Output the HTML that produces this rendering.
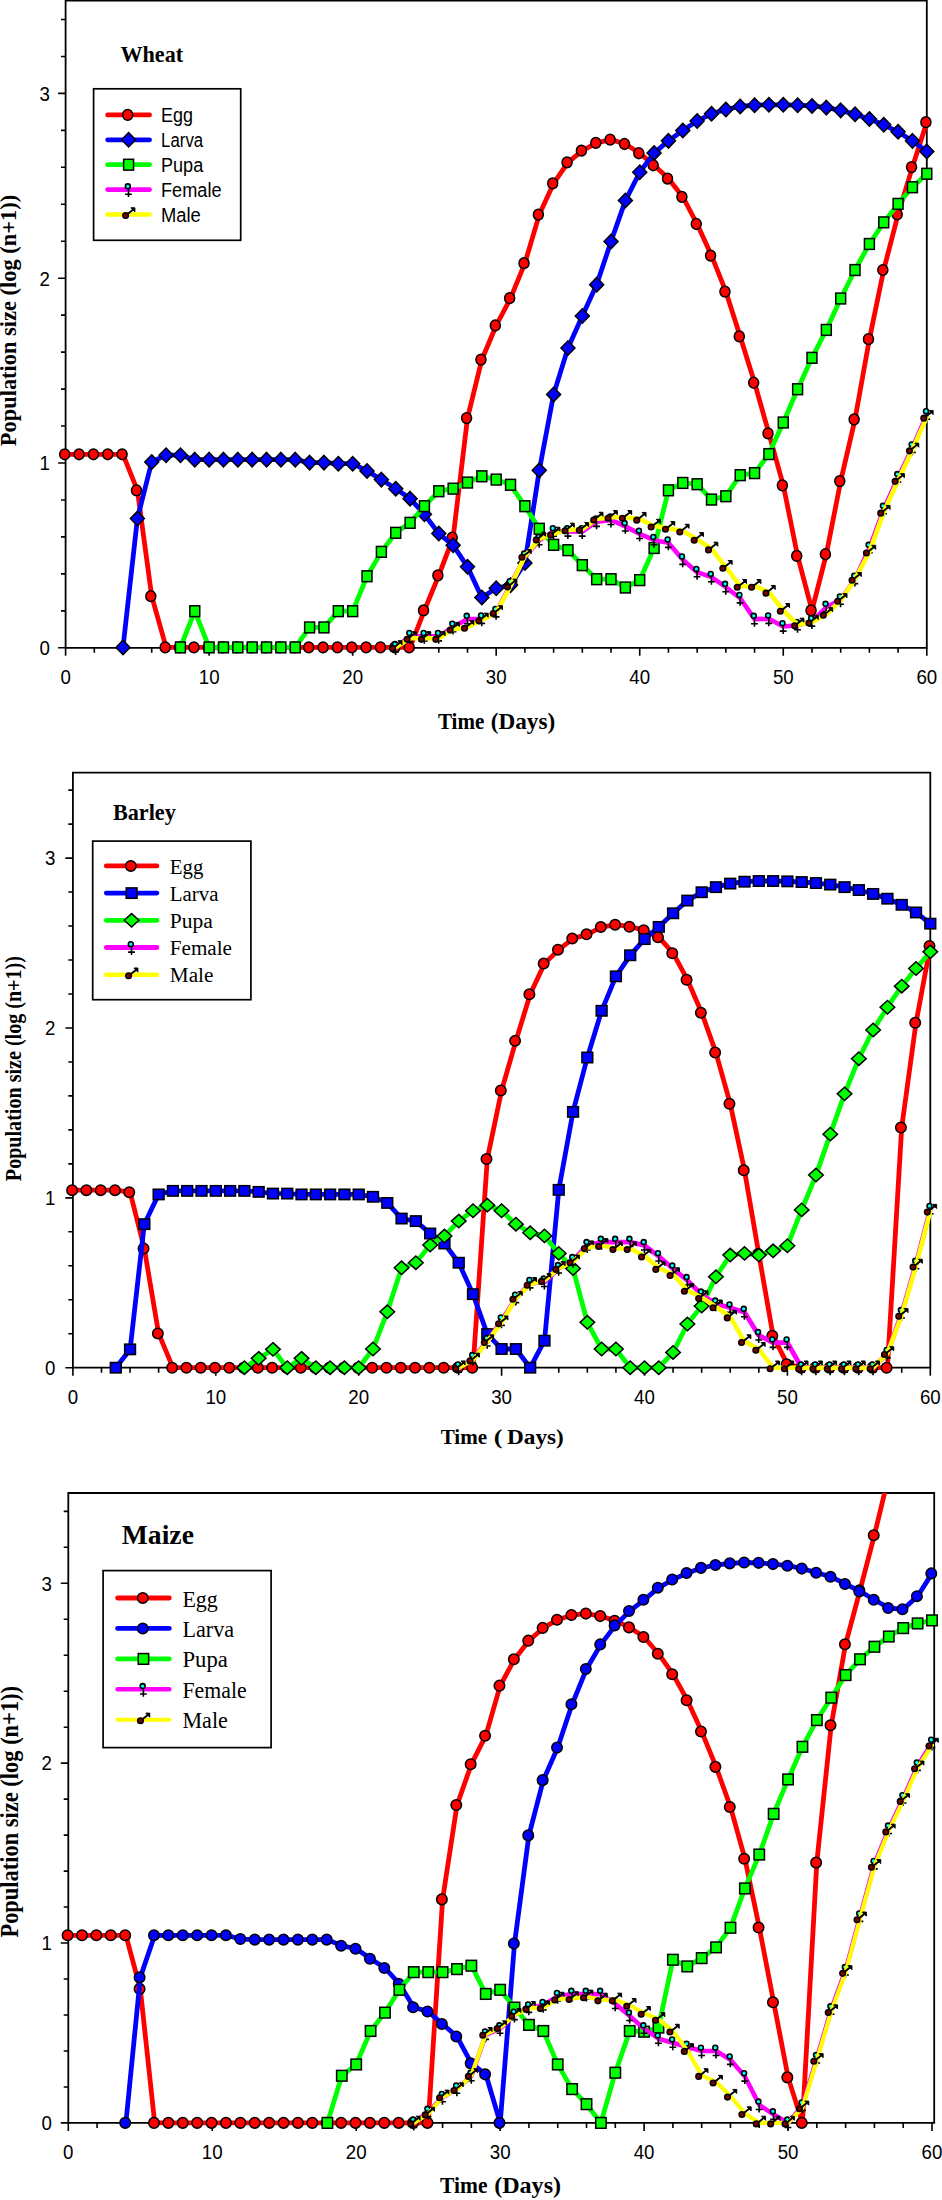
<!DOCTYPE html>
<html lang="en"><head><meta charset="utf-8"><title>Population size over time: Wheat, Barley, Maize</title>
<style>html,body{margin:0;padding:0;background:#fff}svg{display:block}</style></head>
<body>
<svg width="942" height="2200" viewBox="0 0 942 2200">
<defs>
<g id="fem"><path d="M-0.1 -0.8V7.5M-3.5 4.6H3.3" stroke="#000" stroke-width="1.6" fill="none"/><circle cx="-0.8" cy="-3.3" r="2.45" fill="#00ffff" stroke="#000" stroke-width="1.6"/></g>
<g id="mal"><path d="M-3 1L4.4 -4.8" stroke="#000" stroke-width="1.9" fill="none"/><path d="M6.3 -6.7L6.3 -2.6L2.3 -6.7Z" fill="#000" stroke="#000" stroke-width="1" stroke-linejoin="round"/><circle cx="-3" cy="1" r="2.75" fill="#800000" stroke="#000" stroke-width="1.6"/></g>
</defs>
<rect width="942" height="2200" fill="#fff"/>
<clipPath id="cp1"><rect x="55.599999999999994" y="0.6" width="881.1999999999999" height="659.1999999999999"/></clipPath>
<path d="M65.6 0.6H926.8V647.8H65.6Z" fill="none" stroke="#000" stroke-width="1.8"/>
<path d="M65.6 647.8v8.0M94.31 647.8v5.0M123.01 647.8v5.0M151.72 647.8v5.0M180.43 647.8v5.0M209.13 647.8v8.0M237.84 647.8v5.0M266.55 647.8v5.0M295.25 647.8v5.0M323.96 647.8v5.0M352.67 647.8v8.0M381.37 647.8v5.0M410.08 647.8v5.0M438.79 647.8v5.0M467.49 647.8v5.0M496.2 647.8v8.0M524.91 647.8v5.0M553.61 647.8v5.0M582.32 647.8v5.0M611.03 647.8v5.0M639.73 647.8v8.0M668.44 647.8v5.0M697.15 647.8v5.0M725.85 647.8v5.0M754.56 647.8v5.0M783.27 647.8v8.0M811.97 647.8v5.0M840.68 647.8v5.0M869.39 647.8v5.0M898.09 647.8v5.0M926.8 647.8v8.0M65.6 647.8h-7.5M65.6 610.84h-4.6M65.6 573.88h-4.6M65.6 536.92h-4.6M65.6 499.96h-4.6M65.6 463.0h-7.5M65.6 426.04h-4.6M65.6 389.08h-4.6M65.6 352.12h-4.6M65.6 315.16h-4.6M65.6 278.2h-7.5M65.6 241.24h-4.6M65.6 204.28h-4.6M65.6 167.32h-4.6M65.6 130.36h-4.6M65.6 93.4h-7.5M65.6 56.44h-4.6M65.6 19.48h-4.6" stroke="#000" stroke-width="1.6" fill="none"/>
<text transform="translate(65.6 683.7) scale(1 1.06)" font-family="Liberation Sans, Arial, sans-serif" font-size="18.7" text-anchor="middle" fill="#000" xml:space="preserve">0</text>
<text transform="translate(209.13 683.7) scale(1 1.06)" font-family="Liberation Sans, Arial, sans-serif" font-size="18.7" text-anchor="middle" fill="#000" xml:space="preserve">10</text>
<text transform="translate(352.67 683.7) scale(1 1.06)" font-family="Liberation Sans, Arial, sans-serif" font-size="18.7" text-anchor="middle" fill="#000" xml:space="preserve">20</text>
<text transform="translate(496.2 683.7) scale(1 1.06)" font-family="Liberation Sans, Arial, sans-serif" font-size="18.7" text-anchor="middle" fill="#000" xml:space="preserve">30</text>
<text transform="translate(639.73 683.7) scale(1 1.06)" font-family="Liberation Sans, Arial, sans-serif" font-size="18.7" text-anchor="middle" fill="#000" xml:space="preserve">40</text>
<text transform="translate(783.27 683.7) scale(1 1.06)" font-family="Liberation Sans, Arial, sans-serif" font-size="18.7" text-anchor="middle" fill="#000" xml:space="preserve">50</text>
<text transform="translate(926.8 683.7) scale(1 1.06)" font-family="Liberation Sans, Arial, sans-serif" font-size="18.7" text-anchor="middle" fill="#000" xml:space="preserve">60</text>
<text transform="translate(49.8 655.1) scale(1 1.06)" font-family="Liberation Sans, Arial, sans-serif" font-size="18.7" text-anchor="end" fill="#000" xml:space="preserve">0</text>
<text transform="translate(49.8 470.3) scale(1 1.06)" font-family="Liberation Sans, Arial, sans-serif" font-size="18.7" text-anchor="end" fill="#000" xml:space="preserve">1</text>
<text transform="translate(49.8 285.5) scale(1 1.06)" font-family="Liberation Sans, Arial, sans-serif" font-size="18.7" text-anchor="end" fill="#000" xml:space="preserve">2</text>
<text transform="translate(49.8 100.7) scale(1 1.06)" font-family="Liberation Sans, Arial, sans-serif" font-size="18.7" text-anchor="end" fill="#000" xml:space="preserve">3</text>
<g clip-path="url(#cp1)">
<polyline points="65.6,454.3 80.0,454.3 94.3,454.3 108.7,454.3 123.0,454.3 137.4,490.3 151.7,596.2 166.1,647.4 180.4,647.4 194.8,647.4 209.1,647.4 223.5,647.4 237.8,647.4 252.2,647.4 266.5,647.4 280.9,647.4 295.3,647.4 309.6,647.4 324.0,647.4 338.3,647.4 352.7,647.4 367.0,647.4 381.4,647.4 395.7,647.4 410.1,647.4 424.4,610.4 438.8,575.3 453.1,537.6 467.5,418.1 481.8,359.7 496.2,325.5 510.6,298.1 524.9,263.2 539.3,214.6 553.6,183.4 568.0,162.3 582.3,150.7 596.7,142.9 611.0,139.6 625.4,144.0 639.7,153.2 654.1,165.3 668.4,178.6 682.8,196.9 697.1,224.0 711.5,255.6 725.9,291.7 740.2,336.4 754.6,382.8 768.9,433.4 783.3,485.3 797.6,555.9 812.0,610.4 826.3,554.3 840.7,481.1 855.0,419.4 869.4,339.2 883.7,270.0 898.1,214.4 912.4,167.1 926.8,122.2" fill="none" stroke="#ff0000" stroke-width="4.8" stroke-linejoin="round" stroke-linecap="round"/>
<ellipse cx="64.7" cy="454.28" rx="5.0" ry="5.4" fill="#ff0000" stroke="#000" stroke-width="1.5"/>
<ellipse cx="79.05" cy="454.28" rx="5.0" ry="5.4" fill="#ff0000" stroke="#000" stroke-width="1.5"/>
<ellipse cx="93.41" cy="454.28" rx="5.0" ry="5.4" fill="#ff0000" stroke="#000" stroke-width="1.5"/>
<ellipse cx="107.76" cy="454.28" rx="5.0" ry="5.4" fill="#ff0000" stroke="#000" stroke-width="1.5"/>
<ellipse cx="122.11" cy="454.28" rx="5.0" ry="5.4" fill="#ff0000" stroke="#000" stroke-width="1.5"/>
<ellipse cx="136.47" cy="490.32" rx="5.0" ry="5.4" fill="#ff0000" stroke="#000" stroke-width="1.5"/>
<ellipse cx="150.82" cy="596.21" rx="5.0" ry="5.4" fill="#ff0000" stroke="#000" stroke-width="1.5"/>
<ellipse cx="165.17" cy="647.4" rx="5.0" ry="5.4" fill="#ff0000" stroke="#000" stroke-width="1.5"/>
<ellipse cx="179.53" cy="647.4" rx="5.0" ry="5.4" fill="#ff0000" stroke="#000" stroke-width="1.5"/>
<ellipse cx="193.88" cy="647.4" rx="5.0" ry="5.4" fill="#ff0000" stroke="#000" stroke-width="1.5"/>
<ellipse cx="208.23" cy="647.4" rx="5.0" ry="5.4" fill="#ff0000" stroke="#000" stroke-width="1.5"/>
<ellipse cx="222.59" cy="647.4" rx="5.0" ry="5.4" fill="#ff0000" stroke="#000" stroke-width="1.5"/>
<ellipse cx="236.94" cy="647.4" rx="5.0" ry="5.4" fill="#ff0000" stroke="#000" stroke-width="1.5"/>
<ellipse cx="251.29" cy="647.4" rx="5.0" ry="5.4" fill="#ff0000" stroke="#000" stroke-width="1.5"/>
<ellipse cx="265.65" cy="647.4" rx="5.0" ry="5.4" fill="#ff0000" stroke="#000" stroke-width="1.5"/>
<ellipse cx="280.0" cy="647.4" rx="5.0" ry="5.4" fill="#ff0000" stroke="#000" stroke-width="1.5"/>
<ellipse cx="294.35" cy="647.4" rx="5.0" ry="5.4" fill="#ff0000" stroke="#000" stroke-width="1.5"/>
<ellipse cx="308.71" cy="647.4" rx="5.0" ry="5.4" fill="#ff0000" stroke="#000" stroke-width="1.5"/>
<ellipse cx="323.06" cy="647.4" rx="5.0" ry="5.4" fill="#ff0000" stroke="#000" stroke-width="1.5"/>
<ellipse cx="337.41" cy="647.4" rx="5.0" ry="5.4" fill="#ff0000" stroke="#000" stroke-width="1.5"/>
<ellipse cx="351.77" cy="647.4" rx="5.0" ry="5.4" fill="#ff0000" stroke="#000" stroke-width="1.5"/>
<ellipse cx="366.12" cy="647.4" rx="5.0" ry="5.4" fill="#ff0000" stroke="#000" stroke-width="1.5"/>
<ellipse cx="380.47" cy="647.4" rx="5.0" ry="5.4" fill="#ff0000" stroke="#000" stroke-width="1.5"/>
<ellipse cx="394.83" cy="647.4" rx="5.0" ry="5.4" fill="#ff0000" stroke="#000" stroke-width="1.5"/>
<ellipse cx="409.18" cy="647.4" rx="5.0" ry="5.4" fill="#ff0000" stroke="#000" stroke-width="1.5"/>
<ellipse cx="423.53" cy="610.44" rx="5.0" ry="5.4" fill="#ff0000" stroke="#000" stroke-width="1.5"/>
<ellipse cx="437.89" cy="575.33" rx="5.0" ry="5.4" fill="#ff0000" stroke="#000" stroke-width="1.5"/>
<ellipse cx="452.24" cy="537.63" rx="5.0" ry="5.4" fill="#ff0000" stroke="#000" stroke-width="1.5"/>
<ellipse cx="466.59" cy="418.06" rx="5.0" ry="5.4" fill="#ff0000" stroke="#000" stroke-width="1.5"/>
<ellipse cx="480.95" cy="359.67" rx="5.0" ry="5.4" fill="#ff0000" stroke="#000" stroke-width="1.5"/>
<ellipse cx="495.3" cy="325.48" rx="5.0" ry="5.4" fill="#ff0000" stroke="#000" stroke-width="1.5"/>
<ellipse cx="509.65" cy="298.13" rx="5.0" ry="5.4" fill="#ff0000" stroke="#000" stroke-width="1.5"/>
<ellipse cx="524.01" cy="263.2" rx="5.0" ry="5.4" fill="#ff0000" stroke="#000" stroke-width="1.5"/>
<ellipse cx="538.36" cy="214.6" rx="5.0" ry="5.4" fill="#ff0000" stroke="#000" stroke-width="1.5"/>
<ellipse cx="552.71" cy="183.37" rx="5.0" ry="5.4" fill="#ff0000" stroke="#000" stroke-width="1.5"/>
<ellipse cx="567.07" cy="162.3" rx="5.0" ry="5.4" fill="#ff0000" stroke="#000" stroke-width="1.5"/>
<ellipse cx="581.42" cy="150.66" rx="5.0" ry="5.4" fill="#ff0000" stroke="#000" stroke-width="1.5"/>
<ellipse cx="595.77" cy="142.9" rx="5.0" ry="5.4" fill="#ff0000" stroke="#000" stroke-width="1.5"/>
<ellipse cx="610.13" cy="139.57" rx="5.0" ry="5.4" fill="#ff0000" stroke="#000" stroke-width="1.5"/>
<ellipse cx="624.48" cy="144.0" rx="5.0" ry="5.4" fill="#ff0000" stroke="#000" stroke-width="1.5"/>
<ellipse cx="638.83" cy="153.24" rx="5.0" ry="5.4" fill="#ff0000" stroke="#000" stroke-width="1.5"/>
<ellipse cx="653.19" cy="165.26" rx="5.0" ry="5.4" fill="#ff0000" stroke="#000" stroke-width="1.5"/>
<ellipse cx="667.54" cy="178.56" rx="5.0" ry="5.4" fill="#ff0000" stroke="#000" stroke-width="1.5"/>
<ellipse cx="681.89" cy="196.86" rx="5.0" ry="5.4" fill="#ff0000" stroke="#000" stroke-width="1.5"/>
<ellipse cx="696.25" cy="224.02" rx="5.0" ry="5.4" fill="#ff0000" stroke="#000" stroke-width="1.5"/>
<ellipse cx="710.6" cy="255.62" rx="5.0" ry="5.4" fill="#ff0000" stroke="#000" stroke-width="1.5"/>
<ellipse cx="724.95" cy="291.66" rx="5.0" ry="5.4" fill="#ff0000" stroke="#000" stroke-width="1.5"/>
<ellipse cx="739.31" cy="336.38" rx="5.0" ry="5.4" fill="#ff0000" stroke="#000" stroke-width="1.5"/>
<ellipse cx="753.66" cy="382.77" rx="5.0" ry="5.4" fill="#ff0000" stroke="#000" stroke-width="1.5"/>
<ellipse cx="768.01" cy="433.4" rx="5.0" ry="5.4" fill="#ff0000" stroke="#000" stroke-width="1.5"/>
<ellipse cx="782.37" cy="485.33" rx="5.0" ry="5.4" fill="#ff0000" stroke="#000" stroke-width="1.5"/>
<ellipse cx="796.72" cy="555.92" rx="5.0" ry="5.4" fill="#ff0000" stroke="#000" stroke-width="1.5"/>
<ellipse cx="811.07" cy="610.44" rx="5.0" ry="5.4" fill="#ff0000" stroke="#000" stroke-width="1.5"/>
<ellipse cx="825.43" cy="554.26" rx="5.0" ry="5.4" fill="#ff0000" stroke="#000" stroke-width="1.5"/>
<ellipse cx="839.78" cy="481.08" rx="5.0" ry="5.4" fill="#ff0000" stroke="#000" stroke-width="1.5"/>
<ellipse cx="854.13" cy="419.36" rx="5.0" ry="5.4" fill="#ff0000" stroke="#000" stroke-width="1.5"/>
<ellipse cx="868.49" cy="339.15" rx="5.0" ry="5.4" fill="#ff0000" stroke="#000" stroke-width="1.5"/>
<ellipse cx="882.84" cy="270.04" rx="5.0" ry="5.4" fill="#ff0000" stroke="#000" stroke-width="1.5"/>
<ellipse cx="897.19" cy="214.41" rx="5.0" ry="5.4" fill="#ff0000" stroke="#000" stroke-width="1.5"/>
<ellipse cx="911.55" cy="167.1" rx="5.0" ry="5.4" fill="#ff0000" stroke="#000" stroke-width="1.5"/>
<ellipse cx="925.9" cy="122.2" rx="5.0" ry="5.4" fill="#ff0000" stroke="#000" stroke-width="1.5"/>
<polyline points="123.0,647.4 137.4,518.6 151.7,462.0 166.1,455.2 180.4,455.2 194.8,459.6 209.1,459.6 223.5,459.6 237.8,459.6 252.2,459.6 266.5,459.6 280.9,459.6 295.3,459.6 309.6,462.6 324.0,462.6 338.3,463.7 352.7,463.7 367.0,470.9 381.4,479.6 395.7,488.7 410.1,498.6 424.4,514.3 438.8,533.6 453.1,545.2 467.5,566.8 481.8,597.5 496.2,588.3 510.6,585.1 524.9,562.9 539.3,470.4 553.6,394.4 568.0,348.0 582.3,316.1 596.7,284.6 611.0,241.6 625.4,200.6 639.7,172.3 654.1,153.1 668.4,140.9 682.8,130.5 697.1,121.1 711.5,113.7 725.9,109.4 740.2,106.5 754.6,105.2 768.9,104.8 783.3,104.8 797.6,105.2 812.0,105.9 826.3,107.6 840.7,110.4 855.0,114.3 869.4,119.1 883.7,124.8 898.1,131.8 912.4,140.9 926.8,151.4" fill="none" stroke="#0000ff" stroke-width="4.8" stroke-linejoin="round" stroke-linecap="round"/>
<path d="M123.01 640.2L130.01 647.4L123.01 654.6L116.01 647.4Z" fill="#0000ff" stroke="#000" stroke-width="1.5" stroke-linejoin="miter"/>
<path d="M137.37 511.39L144.37 518.59L137.37 525.79L130.37 518.59Z" fill="#0000ff" stroke="#000" stroke-width="1.5" stroke-linejoin="miter"/>
<path d="M151.72 454.85L158.72 462.05L151.72 469.25L144.72 462.05Z" fill="#0000ff" stroke="#000" stroke-width="1.5" stroke-linejoin="miter"/>
<path d="M166.07 448.01L173.07 455.21L166.07 462.41L159.07 455.21Z" fill="#0000ff" stroke="#000" stroke-width="1.5" stroke-linejoin="miter"/>
<path d="M180.43 448.01L187.43 455.21L180.43 462.41L173.43 455.21Z" fill="#0000ff" stroke="#000" stroke-width="1.5" stroke-linejoin="miter"/>
<path d="M194.78 452.44L201.78 459.64L194.78 466.84L187.78 459.64Z" fill="#0000ff" stroke="#000" stroke-width="1.5" stroke-linejoin="miter"/>
<path d="M209.13 452.44L216.13 459.64L209.13 466.84L202.13 459.64Z" fill="#0000ff" stroke="#000" stroke-width="1.5" stroke-linejoin="miter"/>
<path d="M223.49 452.44L230.49 459.64L223.49 466.84L216.49 459.64Z" fill="#0000ff" stroke="#000" stroke-width="1.5" stroke-linejoin="miter"/>
<path d="M237.84 452.44L244.84 459.64L237.84 466.84L230.84 459.64Z" fill="#0000ff" stroke="#000" stroke-width="1.5" stroke-linejoin="miter"/>
<path d="M252.19 452.44L259.19 459.64L252.19 466.84L245.19 459.64Z" fill="#0000ff" stroke="#000" stroke-width="1.5" stroke-linejoin="miter"/>
<path d="M266.55 452.44L273.55 459.64L266.55 466.84L259.55 459.64Z" fill="#0000ff" stroke="#000" stroke-width="1.5" stroke-linejoin="miter"/>
<path d="M280.9 452.44L287.9 459.64L280.9 466.84L273.9 459.64Z" fill="#0000ff" stroke="#000" stroke-width="1.5" stroke-linejoin="miter"/>
<path d="M295.25 452.44L302.25 459.64L295.25 466.84L288.25 459.64Z" fill="#0000ff" stroke="#000" stroke-width="1.5" stroke-linejoin="miter"/>
<path d="M309.61 455.4L316.61 462.6L309.61 469.8L302.61 462.6Z" fill="#0000ff" stroke="#000" stroke-width="1.5" stroke-linejoin="miter"/>
<path d="M323.96 455.4L330.96 462.6L323.96 469.8L316.96 462.6Z" fill="#0000ff" stroke="#000" stroke-width="1.5" stroke-linejoin="miter"/>
<path d="M338.31 456.51L345.31 463.71L338.31 470.91L331.31 463.71Z" fill="#0000ff" stroke="#000" stroke-width="1.5" stroke-linejoin="miter"/>
<path d="M352.67 456.51L359.67 463.71L352.67 470.91L345.67 463.71Z" fill="#0000ff" stroke="#000" stroke-width="1.5" stroke-linejoin="miter"/>
<path d="M367.02 463.72L374.02 470.92L367.02 478.12L360.02 470.92Z" fill="#0000ff" stroke="#000" stroke-width="1.5" stroke-linejoin="miter"/>
<path d="M381.37 472.4L388.37 479.6L381.37 486.8L374.37 479.6Z" fill="#0000ff" stroke="#000" stroke-width="1.5" stroke-linejoin="miter"/>
<path d="M395.73 481.46L402.73 488.66L395.73 495.86L388.73 488.66Z" fill="#0000ff" stroke="#000" stroke-width="1.5" stroke-linejoin="miter"/>
<path d="M410.08 491.44L417.08 498.64L410.08 505.84L403.08 498.64Z" fill="#0000ff" stroke="#000" stroke-width="1.5" stroke-linejoin="miter"/>
<path d="M424.43 507.14L431.43 514.34L424.43 521.54L417.43 514.34Z" fill="#0000ff" stroke="#000" stroke-width="1.5" stroke-linejoin="miter"/>
<path d="M438.79 526.36L445.79 533.56L438.79 540.76L431.79 533.56Z" fill="#0000ff" stroke="#000" stroke-width="1.5" stroke-linejoin="miter"/>
<path d="M453.14 538.01L460.14 545.21L453.14 552.41L446.14 545.21Z" fill="#0000ff" stroke="#000" stroke-width="1.5" stroke-linejoin="miter"/>
<path d="M467.49 559.63L474.49 566.83L467.49 574.03L460.49 566.83Z" fill="#0000ff" stroke="#000" stroke-width="1.5" stroke-linejoin="miter"/>
<path d="M481.85 590.3L488.85 597.5L481.85 604.7L474.85 597.5Z" fill="#0000ff" stroke="#000" stroke-width="1.5" stroke-linejoin="miter"/>
<path d="M496.2 581.06L503.2 588.26L496.2 595.46L489.2 588.26Z" fill="#0000ff" stroke="#000" stroke-width="1.5" stroke-linejoin="miter"/>
<path d="M510.55 577.92L517.55 585.12L510.55 592.32L503.55 585.12Z" fill="#0000ff" stroke="#000" stroke-width="1.5" stroke-linejoin="miter"/>
<path d="M524.91 555.75L531.91 562.95L524.91 570.15L517.91 562.95Z" fill="#0000ff" stroke="#000" stroke-width="1.5" stroke-linejoin="miter"/>
<path d="M539.26 463.16L546.26 470.36L539.26 477.56L532.26 470.36Z" fill="#0000ff" stroke="#000" stroke-width="1.5" stroke-linejoin="miter"/>
<path d="M553.61 387.21L560.61 394.41L553.61 401.61L546.61 394.41Z" fill="#0000ff" stroke="#000" stroke-width="1.5" stroke-linejoin="miter"/>
<path d="M567.97 340.82L574.97 348.02L567.97 355.22L560.97 348.02Z" fill="#0000ff" stroke="#000" stroke-width="1.5" stroke-linejoin="miter"/>
<path d="M582.32 308.85L589.32 316.05L582.32 323.25L575.32 316.05Z" fill="#0000ff" stroke="#000" stroke-width="1.5" stroke-linejoin="miter"/>
<path d="M596.67 277.44L603.67 284.64L596.67 291.84L589.67 284.64Z" fill="#0000ff" stroke="#000" stroke-width="1.5" stroke-linejoin="miter"/>
<path d="M611.03 234.38L618.03 241.58L611.03 248.78L604.03 241.58Z" fill="#0000ff" stroke="#000" stroke-width="1.5" stroke-linejoin="miter"/>
<path d="M625.38 193.35L632.38 200.55L625.38 207.75L618.38 200.55Z" fill="#0000ff" stroke="#000" stroke-width="1.5" stroke-linejoin="miter"/>
<path d="M639.73 165.08L646.73 172.28L639.73 179.48L632.73 172.28Z" fill="#0000ff" stroke="#000" stroke-width="1.5" stroke-linejoin="miter"/>
<path d="M654.09 145.86L661.09 153.06L654.09 160.26L647.09 153.06Z" fill="#0000ff" stroke="#000" stroke-width="1.5" stroke-linejoin="miter"/>
<path d="M668.44 133.66L675.44 140.86L668.44 148.06L661.44 140.86Z" fill="#0000ff" stroke="#000" stroke-width="1.5" stroke-linejoin="miter"/>
<path d="M682.79 123.31L689.79 130.51L682.79 137.71L675.79 130.51Z" fill="#0000ff" stroke="#000" stroke-width="1.5" stroke-linejoin="miter"/>
<path d="M697.15 113.89L704.15 121.09L697.15 128.29L690.15 121.09Z" fill="#0000ff" stroke="#000" stroke-width="1.5" stroke-linejoin="miter"/>
<path d="M711.5 106.5L718.5 113.7L711.5 120.9L704.5 113.7Z" fill="#0000ff" stroke="#000" stroke-width="1.5" stroke-linejoin="miter"/>
<path d="M725.85 102.25L732.85 109.45L725.85 116.65L718.85 109.45Z" fill="#0000ff" stroke="#000" stroke-width="1.5" stroke-linejoin="miter"/>
<path d="M740.21 99.29L747.21 106.49L740.21 113.69L733.21 106.49Z" fill="#0000ff" stroke="#000" stroke-width="1.5" stroke-linejoin="miter"/>
<path d="M754.56 98.0L761.56 105.2L754.56 112.4L747.56 105.2Z" fill="#0000ff" stroke="#000" stroke-width="1.5" stroke-linejoin="miter"/>
<path d="M768.91 97.63L775.91 104.83L768.91 112.03L761.91 104.83Z" fill="#0000ff" stroke="#000" stroke-width="1.5" stroke-linejoin="miter"/>
<path d="M783.27 97.63L790.27 104.83L783.27 112.03L776.27 104.83Z" fill="#0000ff" stroke="#000" stroke-width="1.5" stroke-linejoin="miter"/>
<path d="M797.62 98.0L804.62 105.2L797.62 112.4L790.62 105.2Z" fill="#0000ff" stroke="#000" stroke-width="1.5" stroke-linejoin="miter"/>
<path d="M811.97 98.74L818.97 105.94L811.97 113.14L804.97 105.94Z" fill="#0000ff" stroke="#000" stroke-width="1.5" stroke-linejoin="miter"/>
<path d="M826.33 100.4L833.33 107.6L826.33 114.8L819.33 107.6Z" fill="#0000ff" stroke="#000" stroke-width="1.5" stroke-linejoin="miter"/>
<path d="M840.68 103.17L847.68 110.37L840.68 117.57L833.68 110.37Z" fill="#0000ff" stroke="#000" stroke-width="1.5" stroke-linejoin="miter"/>
<path d="M855.03 107.05L862.03 114.25L855.03 121.45L848.03 114.25Z" fill="#0000ff" stroke="#000" stroke-width="1.5" stroke-linejoin="miter"/>
<path d="M869.39 111.86L876.39 119.06L869.39 126.26L862.39 119.06Z" fill="#0000ff" stroke="#000" stroke-width="1.5" stroke-linejoin="miter"/>
<path d="M883.74 117.59L890.74 124.79L883.74 131.99L876.74 124.79Z" fill="#0000ff" stroke="#000" stroke-width="1.5" stroke-linejoin="miter"/>
<path d="M898.09 124.61L905.09 131.81L898.09 139.01L891.09 131.81Z" fill="#0000ff" stroke="#000" stroke-width="1.5" stroke-linejoin="miter"/>
<path d="M912.45 133.66L919.45 140.86L912.45 148.06L905.45 140.86Z" fill="#0000ff" stroke="#000" stroke-width="1.5" stroke-linejoin="miter"/>
<path d="M926.8 144.2L933.8 151.4L926.8 158.6L919.8 151.4Z" fill="#0000ff" stroke="#000" stroke-width="1.5" stroke-linejoin="miter"/>
<polyline points="180.4,647.4 194.8,611.2 209.1,647.4 223.5,647.4 237.8,647.4 252.2,647.4 266.5,647.4 280.9,647.4 295.3,647.4 309.6,627.4 324.0,627.4 338.3,611.2 352.7,611.2 367.0,576.3 381.4,551.9 395.7,532.8 410.1,522.8 424.4,506.2 438.8,491.2 453.1,488.7 467.5,482.6 481.8,476.3 496.2,479.6 510.6,484.8 524.9,506.2 539.3,528.8 553.6,544.8 568.0,550.2 582.3,565.2 596.7,579.2 611.0,579.2 625.4,587.5 639.7,580.1 654.1,548.0 668.4,490.3 682.8,482.9 697.1,484.2 711.5,499.6 725.9,496.2 740.2,475.2 754.6,473.1 768.9,454.1 783.3,422.5 797.6,389.2 812.0,357.8 826.3,329.9 840.7,298.5 855.0,270.0 869.4,244.0 883.7,222.4 898.1,203.9 912.4,187.2 926.8,173.8" fill="none" stroke="#00ff00" stroke-width="4.8" stroke-linejoin="round" stroke-linecap="round"/>
<rect x="175.48" y="642.0" width="9.9" height="10.8" fill="#00ff00" stroke="#000" stroke-width="1.5"/>
<rect x="189.83" y="605.78" width="9.9" height="10.8" fill="#00ff00" stroke="#000" stroke-width="1.5"/>
<rect x="204.18" y="642.0" width="9.9" height="10.8" fill="#00ff00" stroke="#000" stroke-width="1.5"/>
<rect x="218.54" y="642.0" width="9.9" height="10.8" fill="#00ff00" stroke="#000" stroke-width="1.5"/>
<rect x="232.89" y="642.0" width="9.9" height="10.8" fill="#00ff00" stroke="#000" stroke-width="1.5"/>
<rect x="247.24" y="642.0" width="9.9" height="10.8" fill="#00ff00" stroke="#000" stroke-width="1.5"/>
<rect x="261.6" y="642.0" width="9.9" height="10.8" fill="#00ff00" stroke="#000" stroke-width="1.5"/>
<rect x="275.95" y="642.0" width="9.9" height="10.8" fill="#00ff00" stroke="#000" stroke-width="1.5"/>
<rect x="290.3" y="642.0" width="9.9" height="10.8" fill="#00ff00" stroke="#000" stroke-width="1.5"/>
<rect x="304.66" y="622.04" width="9.9" height="10.8" fill="#00ff00" stroke="#000" stroke-width="1.5"/>
<rect x="319.01" y="622.04" width="9.9" height="10.8" fill="#00ff00" stroke="#000" stroke-width="1.5"/>
<rect x="333.36" y="605.78" width="9.9" height="10.8" fill="#00ff00" stroke="#000" stroke-width="1.5"/>
<rect x="347.72" y="605.78" width="9.9" height="10.8" fill="#00ff00" stroke="#000" stroke-width="1.5"/>
<rect x="362.07" y="570.85" width="9.9" height="10.8" fill="#00ff00" stroke="#000" stroke-width="1.5"/>
<rect x="376.42" y="546.46" width="9.9" height="10.8" fill="#00ff00" stroke="#000" stroke-width="1.5"/>
<rect x="390.78" y="527.42" width="9.9" height="10.8" fill="#00ff00" stroke="#000" stroke-width="1.5"/>
<rect x="405.13" y="517.44" width="9.9" height="10.8" fill="#00ff00" stroke="#000" stroke-width="1.5"/>
<rect x="419.48" y="500.81" width="9.9" height="10.8" fill="#00ff00" stroke="#000" stroke-width="1.5"/>
<rect x="433.84" y="485.84" width="9.9" height="10.8" fill="#00ff00" stroke="#000" stroke-width="1.5"/>
<rect x="448.19" y="483.26" width="9.9" height="10.8" fill="#00ff00" stroke="#000" stroke-width="1.5"/>
<rect x="462.54" y="477.16" width="9.9" height="10.8" fill="#00ff00" stroke="#000" stroke-width="1.5"/>
<rect x="476.9" y="470.88" width="9.9" height="10.8" fill="#00ff00" stroke="#000" stroke-width="1.5"/>
<rect x="491.25" y="474.2" width="9.9" height="10.8" fill="#00ff00" stroke="#000" stroke-width="1.5"/>
<rect x="505.6" y="479.38" width="9.9" height="10.8" fill="#00ff00" stroke="#000" stroke-width="1.5"/>
<rect x="519.96" y="500.81" width="9.9" height="10.8" fill="#00ff00" stroke="#000" stroke-width="1.5"/>
<rect x="534.31" y="523.36" width="9.9" height="10.8" fill="#00ff00" stroke="#000" stroke-width="1.5"/>
<rect x="548.66" y="539.44" width="9.9" height="10.8" fill="#00ff00" stroke="#000" stroke-width="1.5"/>
<rect x="563.02" y="544.8" width="9.9" height="10.8" fill="#00ff00" stroke="#000" stroke-width="1.5"/>
<rect x="577.37" y="559.76" width="9.9" height="10.8" fill="#00ff00" stroke="#000" stroke-width="1.5"/>
<rect x="591.72" y="573.81" width="9.9" height="10.8" fill="#00ff00" stroke="#000" stroke-width="1.5"/>
<rect x="606.08" y="573.81" width="9.9" height="10.8" fill="#00ff00" stroke="#000" stroke-width="1.5"/>
<rect x="620.43" y="582.12" width="9.9" height="10.8" fill="#00ff00" stroke="#000" stroke-width="1.5"/>
<rect x="634.78" y="574.73" width="9.9" height="10.8" fill="#00ff00" stroke="#000" stroke-width="1.5"/>
<rect x="649.14" y="542.58" width="9.9" height="10.8" fill="#00ff00" stroke="#000" stroke-width="1.5"/>
<rect x="663.49" y="484.92" width="9.9" height="10.8" fill="#00ff00" stroke="#000" stroke-width="1.5"/>
<rect x="677.84" y="477.53" width="9.9" height="10.8" fill="#00ff00" stroke="#000" stroke-width="1.5"/>
<rect x="692.2" y="478.82" width="9.9" height="10.8" fill="#00ff00" stroke="#000" stroke-width="1.5"/>
<rect x="706.55" y="494.16" width="9.9" height="10.8" fill="#00ff00" stroke="#000" stroke-width="1.5"/>
<rect x="720.9" y="490.83" width="9.9" height="10.8" fill="#00ff00" stroke="#000" stroke-width="1.5"/>
<rect x="735.26" y="469.77" width="9.9" height="10.8" fill="#00ff00" stroke="#000" stroke-width="1.5"/>
<rect x="749.61" y="467.73" width="9.9" height="10.8" fill="#00ff00" stroke="#000" stroke-width="1.5"/>
<rect x="763.96" y="448.7" width="9.9" height="10.8" fill="#00ff00" stroke="#000" stroke-width="1.5"/>
<rect x="778.32" y="417.1" width="9.9" height="10.8" fill="#00ff00" stroke="#000" stroke-width="1.5"/>
<rect x="792.67" y="383.83" width="9.9" height="10.8" fill="#00ff00" stroke="#000" stroke-width="1.5"/>
<rect x="807.02" y="352.42" width="9.9" height="10.8" fill="#00ff00" stroke="#000" stroke-width="1.5"/>
<rect x="821.38" y="324.51" width="9.9" height="10.8" fill="#00ff00" stroke="#000" stroke-width="1.5"/>
<rect x="835.73" y="293.1" width="9.9" height="10.8" fill="#00ff00" stroke="#000" stroke-width="1.5"/>
<rect x="850.08" y="264.64" width="9.9" height="10.8" fill="#00ff00" stroke="#000" stroke-width="1.5"/>
<rect x="864.44" y="238.58" width="9.9" height="10.8" fill="#00ff00" stroke="#000" stroke-width="1.5"/>
<rect x="878.79" y="216.96" width="9.9" height="10.8" fill="#00ff00" stroke="#000" stroke-width="1.5"/>
<rect x="893.14" y="198.48" width="9.9" height="10.8" fill="#00ff00" stroke="#000" stroke-width="1.5"/>
<rect x="907.5" y="181.85" width="9.9" height="10.8" fill="#00ff00" stroke="#000" stroke-width="1.5"/>
<rect x="921.85" y="168.36" width="9.9" height="10.8" fill="#00ff00" stroke="#000" stroke-width="1.5"/>
<polyline points="395.7,647.4 410.1,636.3 424.4,636.3 438.8,636.3 453.1,627.1 467.5,619.1 481.8,618.8 496.2,612.3 510.6,584.6 524.9,556.8 539.3,540.2 553.6,531.5 568.0,531.5 582.3,531.5 596.7,521.7 611.0,519.9 625.4,526.4 639.7,533.9 654.1,540.2 668.4,542.8 682.8,559.8 697.1,572.2 711.5,577.2 725.9,587.2 740.2,598.2 754.6,619.1 768.9,618.8 783.3,626.5 797.6,625.2 812.0,621.5 826.3,607.1 840.7,599.7 855.0,579.0 869.4,548.2 883.7,509.2 898.1,477.4 912.4,447.8 926.8,414.6" fill="none" stroke="#ff00ff" stroke-width="4.6" stroke-linejoin="round" stroke-linecap="round"/>
<use href="#fem" x="395.73" y="647.4"/>
<use href="#fem" x="410.08" y="636.31"/>
<use href="#fem" x="424.43" y="636.31"/>
<use href="#fem" x="438.79" y="636.31"/>
<use href="#fem" x="453.14" y="627.07"/>
<use href="#fem" x="467.49" y="619.13"/>
<use href="#fem" x="481.85" y="618.76"/>
<use href="#fem" x="496.2" y="612.29"/>
<use href="#fem" x="510.55" y="584.57"/>
<use href="#fem" x="524.91" y="556.85"/>
<use href="#fem" x="539.26" y="540.22"/>
<use href="#fem" x="553.61" y="531.53"/>
<use href="#fem" x="567.97" y="531.53"/>
<use href="#fem" x="582.32" y="531.53"/>
<use href="#fem" x="596.67" y="521.74"/>
<use href="#fem" x="611.03" y="519.89"/>
<use href="#fem" x="625.38" y="526.36"/>
<use href="#fem" x="639.73" y="533.93"/>
<use href="#fem" x="654.09" y="540.22"/>
<use href="#fem" x="668.44" y="542.8"/>
<use href="#fem" x="682.79" y="559.8"/>
<use href="#fem" x="697.15" y="572.19"/>
<use href="#fem" x="711.5" y="577.18"/>
<use href="#fem" x="725.85" y="587.16"/>
<use href="#fem" x="740.21" y="598.24"/>
<use href="#fem" x="754.56" y="619.13"/>
<use href="#fem" x="768.91" y="618.76"/>
<use href="#fem" x="783.27" y="626.52"/>
<use href="#fem" x="797.62" y="625.22"/>
<use href="#fem" x="811.97" y="621.53"/>
<use href="#fem" x="826.33" y="607.11"/>
<use href="#fem" x="840.68" y="599.72"/>
<use href="#fem" x="855.03" y="579.02"/>
<use href="#fem" x="869.39" y="548.16"/>
<use href="#fem" x="883.74" y="509.17"/>
<use href="#fem" x="898.09" y="477.38"/>
<use href="#fem" x="912.45" y="447.82"/>
<use href="#fem" x="926.8" y="414.55"/>
<polyline points="395.7,647.4 410.1,638.3 424.4,638.3 438.8,638.3 453.1,629.1 467.5,627.3 481.8,619.9 496.2,612.5 510.6,585.9 524.9,556.3 539.3,538.9 553.6,533.9 568.0,529.9 582.3,529.3 596.7,519.0 611.0,517.3 625.4,517.3 639.7,519.1 654.1,526.0 668.4,528.2 682.8,531.0 697.1,539.3 711.5,548.9 725.9,567.2 740.2,586.2 754.6,586.2 768.9,592.1 783.3,610.3 797.6,624.9 812.0,622.1 826.3,614.3 840.7,600.3 855.0,579.2 869.4,552.0 883.7,512.1 898.1,480.3 912.4,449.8 926.8,417.1" fill="none" stroke="#ffff00" stroke-width="4.6" stroke-linejoin="round" stroke-linecap="round"/>
<use href="#mal" x="395.73" y="647.4"/>
<use href="#mal" x="410.08" y="638.34"/>
<use href="#mal" x="424.43" y="638.34"/>
<use href="#mal" x="438.79" y="638.34"/>
<use href="#mal" x="453.14" y="629.1"/>
<use href="#mal" x="467.49" y="627.26"/>
<use href="#mal" x="481.85" y="619.86"/>
<use href="#mal" x="496.2" y="612.47"/>
<use href="#mal" x="510.55" y="585.86"/>
<use href="#mal" x="524.91" y="556.29"/>
<use href="#mal" x="539.26" y="538.92"/>
<use href="#mal" x="553.61" y="533.93"/>
<use href="#mal" x="567.97" y="529.87"/>
<use href="#mal" x="582.32" y="529.31"/>
<use href="#mal" x="596.67" y="518.96"/>
<use href="#mal" x="611.03" y="517.3"/>
<use href="#mal" x="625.38" y="517.3"/>
<use href="#mal" x="639.73" y="519.15"/>
<use href="#mal" x="654.09" y="525.99"/>
<use href="#mal" x="668.44" y="528.2"/>
<use href="#mal" x="682.79" y="530.98"/>
<use href="#mal" x="697.15" y="539.29"/>
<use href="#mal" x="711.5" y="548.9"/>
<use href="#mal" x="725.85" y="567.2"/>
<use href="#mal" x="740.21" y="586.23"/>
<use href="#mal" x="754.56" y="586.23"/>
<use href="#mal" x="768.91" y="592.14"/>
<use href="#mal" x="783.27" y="610.26"/>
<use href="#mal" x="797.62" y="624.85"/>
<use href="#mal" x="811.97" y="622.08"/>
<use href="#mal" x="826.33" y="614.32"/>
<use href="#mal" x="840.68" y="600.28"/>
<use href="#mal" x="855.03" y="579.21"/>
<use href="#mal" x="869.39" y="552.04"/>
<use href="#mal" x="883.74" y="512.13"/>
<use href="#mal" x="898.09" y="480.34"/>
<use href="#mal" x="912.45" y="449.85"/>
<use href="#mal" x="926.8" y="417.14"/>
</g>
<rect x="93.6" y="88.8" width="147.1" height="151.5" fill="#fff" stroke="#000" stroke-width="1.7"/>
<path d="M107.6 114.9H149.6" stroke="#ff0000" stroke-width="4.7" stroke-linecap="round"/>
<ellipse cx="127.7" cy="114.9" rx="5.0" ry="5.4" fill="#ff0000" stroke="#000" stroke-width="1.5"/>
<text transform="translate(161.03 122.1) scale(1 1.084)" font-family="Liberation Sans, Arial, sans-serif" font-size="18.1" textLength="31.93" lengthAdjust="spacingAndGlyphs" fill="#000" xml:space="preserve">Egg</text>
<path d="M107.6 139.8H149.6" stroke="#0000ff" stroke-width="4.7" stroke-linecap="round"/>
<path d="M128.6 132.6L135.6 139.8L128.6 147.0L121.6 139.8Z" fill="#0000ff" stroke="#000" stroke-width="1.5" stroke-linejoin="miter"/>
<text transform="translate(161.12 147.0) scale(1 1.084)" font-family="Liberation Sans, Arial, sans-serif" font-size="18.1" textLength="42.08" lengthAdjust="spacingAndGlyphs" fill="#000" xml:space="preserve">Larva</text>
<path d="M107.6 164.7H149.6" stroke="#00ff00" stroke-width="4.7" stroke-linecap="round"/>
<rect x="123.65" y="159.3" width="9.9" height="10.8" fill="#00ff00" stroke="#000" stroke-width="1.5"/>
<text transform="translate(161.02 171.9) scale(1 1.084)" font-family="Liberation Sans, Arial, sans-serif" font-size="18.1" textLength="42.18" lengthAdjust="spacingAndGlyphs" fill="#000" xml:space="preserve">Pupa</text>
<path d="M107.6 189.6H149.6" stroke="#ff00ff" stroke-width="4.7" stroke-linecap="round"/>
<use href="#fem" x="128.6" y="189.6"/>
<text transform="translate(161.01 196.8) scale(1 1.084)" font-family="Liberation Sans, Arial, sans-serif" font-size="18.1" textLength="60.49" lengthAdjust="spacingAndGlyphs" fill="#000" xml:space="preserve">Female</text>
<path d="M107.6 214.5H149.6" stroke="#ffff00" stroke-width="4.5" stroke-linecap="round"/>
<use href="#mal" x="128.6" y="214.5"/>
<text transform="translate(160.99 221.7) scale(1 1.084)" font-family="Liberation Sans, Arial, sans-serif" font-size="18.1" textLength="39.82" lengthAdjust="spacingAndGlyphs" fill="#000" xml:space="preserve">Male</text>
<text transform="translate(120.39 61.6) scale(1 1.09)" font-family="Liberation Serif, Times New Roman, serif" font-size="22.14" font-weight="bold" textLength="62.71" lengthAdjust="spacingAndGlyphs" fill="#000" xml:space="preserve">Wheat</text>
<text transform="translate(437.97 728.7) scale(1 1.053)" font-family="Liberation Serif, Times New Roman, serif" font-size="22.2" font-weight="bold" textLength="46.37" lengthAdjust="spacingAndGlyphs" fill="#000" xml:space="preserve">Time</text>
<text transform="translate(490.78 728.7) scale(1 1.053)" font-family="Liberation Serif, Times New Roman, serif" font-size="22.2" font-weight="bold" textLength="64.44" lengthAdjust="spacingAndGlyphs" fill="#000" xml:space="preserve">(Days)</text>
<text transform="translate(15.7 446.18) rotate(-90) scale(1 1.001)" font-family="Liberation Serif, Times New Roman, serif" font-size="22.43" font-weight="bold" textLength="251.37" lengthAdjust="spacingAndGlyphs" fill="#000" xml:space="preserve">Population size (log (n+1))</text>
<clipPath id="cp2"><rect x="62.900000000000006" y="772.7" width="877.4" height="607.0"/></clipPath>
<path d="M72.9 772.7H930.3V1367.7H72.9Z" fill="none" stroke="#000" stroke-width="1.8"/>
<path d="M72.9 1367.7v8.0M101.48 1367.7v5.0M130.06 1367.7v5.0M158.64 1367.7v5.0M187.22 1367.7v5.0M215.8 1367.7v8.0M244.38 1367.7v5.0M272.96 1367.7v5.0M301.54 1367.7v5.0M330.12 1367.7v5.0M358.7 1367.7v8.0M387.28 1367.7v5.0M415.86 1367.7v5.0M444.44 1367.7v5.0M473.02 1367.7v5.0M501.6 1367.7v8.0M530.18 1367.7v5.0M558.76 1367.7v5.0M587.34 1367.7v5.0M615.92 1367.7v5.0M644.5 1367.7v8.0M673.08 1367.7v5.0M701.66 1367.7v5.0M730.24 1367.7v5.0M758.82 1367.7v5.0M787.4 1367.7v8.0M815.98 1367.7v5.0M844.56 1367.7v5.0M873.14 1367.7v5.0M901.72 1367.7v5.0M930.3 1367.7v8.0M72.9 1367.7h-7.5M72.9 1333.73h-4.6M72.9 1299.75h-4.6M72.9 1265.78h-4.6M72.9 1231.8h-4.6M72.9 1197.83h-7.5M72.9 1163.86h-4.6M72.9 1129.88h-4.6M72.9 1095.91h-4.6M72.9 1061.93h-4.6M72.9 1027.96h-7.5M72.9 993.99h-4.6M72.9 960.01h-4.6M72.9 926.04h-4.6M72.9 892.06h-4.6M72.9 858.09h-7.5M72.9 824.12h-4.6M72.9 790.14h-4.6" stroke="#000" stroke-width="1.6" fill="none"/>
<text transform="translate(72.9 1403.6) scale(1 1.06)" font-family="Liberation Sans, Arial, sans-serif" font-size="18.7" text-anchor="middle" fill="#000" xml:space="preserve">0</text>
<text transform="translate(215.8 1403.6) scale(1 1.06)" font-family="Liberation Sans, Arial, sans-serif" font-size="18.7" text-anchor="middle" fill="#000" xml:space="preserve">10</text>
<text transform="translate(358.7 1403.6) scale(1 1.06)" font-family="Liberation Sans, Arial, sans-serif" font-size="18.7" text-anchor="middle" fill="#000" xml:space="preserve">20</text>
<text transform="translate(501.6 1403.6) scale(1 1.06)" font-family="Liberation Sans, Arial, sans-serif" font-size="18.7" text-anchor="middle" fill="#000" xml:space="preserve">30</text>
<text transform="translate(644.5 1403.6) scale(1 1.06)" font-family="Liberation Sans, Arial, sans-serif" font-size="18.7" text-anchor="middle" fill="#000" xml:space="preserve">40</text>
<text transform="translate(787.4 1403.6) scale(1 1.06)" font-family="Liberation Sans, Arial, sans-serif" font-size="18.7" text-anchor="middle" fill="#000" xml:space="preserve">50</text>
<text transform="translate(930.3 1403.6) scale(1 1.06)" font-family="Liberation Sans, Arial, sans-serif" font-size="18.7" text-anchor="middle" fill="#000" xml:space="preserve">60</text>
<text transform="translate(55.5 1375.0) scale(1 1.06)" font-family="Liberation Sans, Arial, sans-serif" font-size="18.7" text-anchor="end" fill="#000" xml:space="preserve">0</text>
<text transform="translate(55.5 1205.13) scale(1 1.06)" font-family="Liberation Sans, Arial, sans-serif" font-size="18.7" text-anchor="end" fill="#000" xml:space="preserve">1</text>
<text transform="translate(55.5 1035.26) scale(1 1.06)" font-family="Liberation Sans, Arial, sans-serif" font-size="18.7" text-anchor="end" fill="#000" xml:space="preserve">2</text>
<text transform="translate(55.5 865.39) scale(1 1.06)" font-family="Liberation Sans, Arial, sans-serif" font-size="18.7" text-anchor="end" fill="#000" xml:space="preserve">3</text>
<g clip-path="url(#cp2)">
<polyline points="72.9,1190.2 87.2,1190.2 101.5,1190.2 115.8,1190.2 130.1,1192.2 144.3,1248.5 158.6,1333.4 172.9,1367.7 187.2,1367.7 201.5,1367.7 215.8,1367.7 230.1,1367.7 244.4,1367.7 258.7,1367.7 273.0,1367.7 287.2,1367.7 301.5,1367.7 315.8,1367.7 330.1,1367.7 344.4,1367.7 358.7,1367.7 373.0,1367.7 387.3,1367.7 401.6,1367.7 415.9,1367.7 430.1,1367.7 444.4,1367.7 458.7,1367.7 473.0,1367.7 487.3,1159.1 501.6,1090.5 515.9,1040.9 530.2,994.3 544.5,963.6 558.8,949.6 573.0,938.6 587.3,934.4 601.6,927.1 615.9,924.7 630.2,926.7 644.5,930.3 658.8,937.2 673.1,953.2 687.4,979.7 701.7,1012.7 715.9,1052.6 730.2,1103.7 744.5,1170.3 758.8,1253.9 773.1,1335.8 787.4,1364.3 801.7,1367.7 816.0,1367.7 830.3,1367.7 844.6,1367.7 858.8,1367.7 873.1,1367.7 887.4,1367.7 901.7,1127.5 916.0,1022.9 930.3,946.1" fill="none" stroke="#ff0000" stroke-width="4.8" stroke-linejoin="round" stroke-linecap="round"/>
<ellipse cx="72.1" cy="1190.19" rx="5.25" ry="5.25" fill="#ff0000" stroke="#000" stroke-width="1.5"/>
<ellipse cx="86.39" cy="1190.19" rx="5.25" ry="5.25" fill="#ff0000" stroke="#000" stroke-width="1.5"/>
<ellipse cx="100.68" cy="1190.19" rx="5.25" ry="5.25" fill="#ff0000" stroke="#000" stroke-width="1.5"/>
<ellipse cx="114.97" cy="1190.19" rx="5.25" ry="5.25" fill="#ff0000" stroke="#000" stroke-width="1.5"/>
<ellipse cx="129.26" cy="1192.22" rx="5.25" ry="5.25" fill="#ff0000" stroke="#000" stroke-width="1.5"/>
<ellipse cx="143.55" cy="1248.45" rx="5.25" ry="5.25" fill="#ff0000" stroke="#000" stroke-width="1.5"/>
<ellipse cx="157.84" cy="1333.39" rx="5.25" ry="5.25" fill="#ff0000" stroke="#000" stroke-width="1.5"/>
<ellipse cx="172.13" cy="1367.7" rx="5.25" ry="5.25" fill="#ff0000" stroke="#000" stroke-width="1.5"/>
<ellipse cx="186.42" cy="1367.7" rx="5.25" ry="5.25" fill="#ff0000" stroke="#000" stroke-width="1.5"/>
<ellipse cx="200.71" cy="1367.7" rx="5.25" ry="5.25" fill="#ff0000" stroke="#000" stroke-width="1.5"/>
<ellipse cx="215.0" cy="1367.7" rx="5.25" ry="5.25" fill="#ff0000" stroke="#000" stroke-width="1.5"/>
<ellipse cx="229.29" cy="1367.7" rx="5.25" ry="5.25" fill="#ff0000" stroke="#000" stroke-width="1.5"/>
<ellipse cx="243.58" cy="1367.7" rx="5.25" ry="5.25" fill="#ff0000" stroke="#000" stroke-width="1.5"/>
<ellipse cx="257.87" cy="1367.7" rx="5.25" ry="5.25" fill="#ff0000" stroke="#000" stroke-width="1.5"/>
<ellipse cx="272.16" cy="1367.7" rx="5.25" ry="5.25" fill="#ff0000" stroke="#000" stroke-width="1.5"/>
<ellipse cx="286.45" cy="1367.7" rx="5.25" ry="5.25" fill="#ff0000" stroke="#000" stroke-width="1.5"/>
<ellipse cx="300.74" cy="1367.7" rx="5.25" ry="5.25" fill="#ff0000" stroke="#000" stroke-width="1.5"/>
<ellipse cx="315.03" cy="1367.7" rx="5.25" ry="5.25" fill="#ff0000" stroke="#000" stroke-width="1.5"/>
<ellipse cx="329.32" cy="1367.7" rx="5.25" ry="5.25" fill="#ff0000" stroke="#000" stroke-width="1.5"/>
<ellipse cx="343.61" cy="1367.7" rx="5.25" ry="5.25" fill="#ff0000" stroke="#000" stroke-width="1.5"/>
<ellipse cx="357.9" cy="1367.7" rx="5.25" ry="5.25" fill="#ff0000" stroke="#000" stroke-width="1.5"/>
<ellipse cx="372.19" cy="1367.7" rx="5.25" ry="5.25" fill="#ff0000" stroke="#000" stroke-width="1.5"/>
<ellipse cx="386.48" cy="1367.7" rx="5.25" ry="5.25" fill="#ff0000" stroke="#000" stroke-width="1.5"/>
<ellipse cx="400.77" cy="1367.7" rx="5.25" ry="5.25" fill="#ff0000" stroke="#000" stroke-width="1.5"/>
<ellipse cx="415.06" cy="1367.7" rx="5.25" ry="5.25" fill="#ff0000" stroke="#000" stroke-width="1.5"/>
<ellipse cx="429.35" cy="1367.7" rx="5.25" ry="5.25" fill="#ff0000" stroke="#000" stroke-width="1.5"/>
<ellipse cx="443.64" cy="1367.7" rx="5.25" ry="5.25" fill="#ff0000" stroke="#000" stroke-width="1.5"/>
<ellipse cx="457.93" cy="1367.7" rx="5.25" ry="5.25" fill="#ff0000" stroke="#000" stroke-width="1.5"/>
<ellipse cx="472.22" cy="1367.7" rx="5.25" ry="5.25" fill="#ff0000" stroke="#000" stroke-width="1.5"/>
<ellipse cx="486.51" cy="1159.1" rx="5.25" ry="5.25" fill="#ff0000" stroke="#000" stroke-width="1.5"/>
<ellipse cx="500.8" cy="1090.47" rx="5.25" ry="5.25" fill="#ff0000" stroke="#000" stroke-width="1.5"/>
<ellipse cx="515.09" cy="1040.87" rx="5.25" ry="5.25" fill="#ff0000" stroke="#000" stroke-width="1.5"/>
<ellipse cx="529.38" cy="994.33" rx="5.25" ry="5.25" fill="#ff0000" stroke="#000" stroke-width="1.5"/>
<ellipse cx="543.67" cy="963.58" rx="5.25" ry="5.25" fill="#ff0000" stroke="#000" stroke-width="1.5"/>
<ellipse cx="557.96" cy="949.65" rx="5.25" ry="5.25" fill="#ff0000" stroke="#000" stroke-width="1.5"/>
<ellipse cx="572.25" cy="938.61" rx="5.25" ry="5.25" fill="#ff0000" stroke="#000" stroke-width="1.5"/>
<ellipse cx="586.54" cy="934.36" rx="5.25" ry="5.25" fill="#ff0000" stroke="#000" stroke-width="1.5"/>
<ellipse cx="600.83" cy="927.06" rx="5.25" ry="5.25" fill="#ff0000" stroke="#000" stroke-width="1.5"/>
<ellipse cx="615.12" cy="924.68" rx="5.25" ry="5.25" fill="#ff0000" stroke="#000" stroke-width="1.5"/>
<ellipse cx="629.41" cy="926.72" rx="5.25" ry="5.25" fill="#ff0000" stroke="#000" stroke-width="1.5"/>
<ellipse cx="643.7" cy="930.28" rx="5.25" ry="5.25" fill="#ff0000" stroke="#000" stroke-width="1.5"/>
<ellipse cx="657.99" cy="937.25" rx="5.25" ry="5.25" fill="#ff0000" stroke="#000" stroke-width="1.5"/>
<ellipse cx="672.28" cy="953.22" rx="5.25" ry="5.25" fill="#ff0000" stroke="#000" stroke-width="1.5"/>
<ellipse cx="686.57" cy="979.72" rx="5.25" ry="5.25" fill="#ff0000" stroke="#000" stroke-width="1.5"/>
<ellipse cx="700.86" cy="1012.67" rx="5.25" ry="5.25" fill="#ff0000" stroke="#000" stroke-width="1.5"/>
<ellipse cx="715.15" cy="1052.59" rx="5.25" ry="5.25" fill="#ff0000" stroke="#000" stroke-width="1.5"/>
<ellipse cx="729.44" cy="1103.72" rx="5.25" ry="5.25" fill="#ff0000" stroke="#000" stroke-width="1.5"/>
<ellipse cx="743.73" cy="1170.31" rx="5.25" ry="5.25" fill="#ff0000" stroke="#000" stroke-width="1.5"/>
<ellipse cx="758.02" cy="1253.89" rx="5.25" ry="5.25" fill="#ff0000" stroke="#000" stroke-width="1.5"/>
<ellipse cx="772.31" cy="1335.76" rx="5.25" ry="5.25" fill="#ff0000" stroke="#000" stroke-width="1.5"/>
<ellipse cx="786.6" cy="1364.3" rx="5.25" ry="5.25" fill="#ff0000" stroke="#000" stroke-width="1.5"/>
<ellipse cx="800.89" cy="1367.7" rx="5.25" ry="5.25" fill="#ff0000" stroke="#000" stroke-width="1.5"/>
<ellipse cx="815.18" cy="1367.7" rx="5.25" ry="5.25" fill="#ff0000" stroke="#000" stroke-width="1.5"/>
<ellipse cx="829.47" cy="1367.7" rx="5.25" ry="5.25" fill="#ff0000" stroke="#000" stroke-width="1.5"/>
<ellipse cx="843.76" cy="1367.7" rx="5.25" ry="5.25" fill="#ff0000" stroke="#000" stroke-width="1.5"/>
<ellipse cx="858.05" cy="1367.7" rx="5.25" ry="5.25" fill="#ff0000" stroke="#000" stroke-width="1.5"/>
<ellipse cx="872.34" cy="1367.7" rx="5.25" ry="5.25" fill="#ff0000" stroke="#000" stroke-width="1.5"/>
<ellipse cx="886.63" cy="1367.7" rx="5.25" ry="5.25" fill="#ff0000" stroke="#000" stroke-width="1.5"/>
<ellipse cx="900.92" cy="1127.5" rx="5.25" ry="5.25" fill="#ff0000" stroke="#000" stroke-width="1.5"/>
<ellipse cx="915.21" cy="1022.86" rx="5.25" ry="5.25" fill="#ff0000" stroke="#000" stroke-width="1.5"/>
<ellipse cx="929.5" cy="946.08" rx="5.25" ry="5.25" fill="#ff0000" stroke="#000" stroke-width="1.5"/>
<polyline points="115.8,1367.7 130.1,1349.4 144.3,1224.2 158.6,1194.4 172.9,1190.9 187.2,1190.9 201.5,1190.9 215.8,1190.9 230.1,1190.9 244.4,1190.9 258.7,1191.9 273.0,1193.6 287.2,1193.6 301.5,1194.4 315.8,1194.4 330.1,1194.4 344.4,1194.4 358.7,1194.4 373.0,1196.8 387.3,1202.9 401.6,1218.6 415.9,1221.1 430.1,1233.5 444.4,1243.5 458.7,1262.7 473.0,1294.1 487.3,1334.1 501.6,1349.0 515.9,1349.0 530.2,1367.7 544.5,1340.7 558.8,1189.8 573.0,1111.9 587.3,1057.5 601.6,1010.8 615.9,976.3 630.2,955.3 644.5,939.1 658.8,926.9 673.1,913.3 687.4,900.6 701.7,892.2 715.9,887.1 730.2,883.6 744.5,881.7 758.8,881.0 773.1,881.0 787.4,881.4 801.7,882.0 816.0,883.1 830.3,884.6 844.6,887.1 858.8,890.0 873.1,893.9 887.4,898.7 901.7,904.8 916.0,912.4 930.3,923.7" fill="none" stroke="#0000ff" stroke-width="4.8" stroke-linejoin="round" stroke-linecap="round"/>
<rect x="110.37" y="1362.5" width="10.8" height="10.4" fill="#0000ff" stroke="#000" stroke-width="1.5"/>
<rect x="124.66" y="1344.15" width="10.8" height="10.4" fill="#0000ff" stroke="#000" stroke-width="1.5"/>
<rect x="138.95" y="1218.96" width="10.8" height="10.4" fill="#0000ff" stroke="#000" stroke-width="1.5"/>
<rect x="153.24" y="1189.23" width="10.8" height="10.4" fill="#0000ff" stroke="#000" stroke-width="1.5"/>
<rect x="167.53" y="1185.67" width="10.8" height="10.4" fill="#0000ff" stroke="#000" stroke-width="1.5"/>
<rect x="181.82" y="1185.67" width="10.8" height="10.4" fill="#0000ff" stroke="#000" stroke-width="1.5"/>
<rect x="196.11" y="1185.67" width="10.8" height="10.4" fill="#0000ff" stroke="#000" stroke-width="1.5"/>
<rect x="210.4" y="1185.67" width="10.8" height="10.4" fill="#0000ff" stroke="#000" stroke-width="1.5"/>
<rect x="224.69" y="1185.67" width="10.8" height="10.4" fill="#0000ff" stroke="#000" stroke-width="1.5"/>
<rect x="238.98" y="1185.67" width="10.8" height="10.4" fill="#0000ff" stroke="#000" stroke-width="1.5"/>
<rect x="253.27" y="1186.68" width="10.8" height="10.4" fill="#0000ff" stroke="#000" stroke-width="1.5"/>
<rect x="267.56" y="1188.38" width="10.8" height="10.4" fill="#0000ff" stroke="#000" stroke-width="1.5"/>
<rect x="281.85" y="1188.38" width="10.8" height="10.4" fill="#0000ff" stroke="#000" stroke-width="1.5"/>
<rect x="296.14" y="1189.23" width="10.8" height="10.4" fill="#0000ff" stroke="#000" stroke-width="1.5"/>
<rect x="310.43" y="1189.23" width="10.8" height="10.4" fill="#0000ff" stroke="#000" stroke-width="1.5"/>
<rect x="324.72" y="1189.23" width="10.8" height="10.4" fill="#0000ff" stroke="#000" stroke-width="1.5"/>
<rect x="339.01" y="1189.23" width="10.8" height="10.4" fill="#0000ff" stroke="#000" stroke-width="1.5"/>
<rect x="353.3" y="1189.23" width="10.8" height="10.4" fill="#0000ff" stroke="#000" stroke-width="1.5"/>
<rect x="367.59" y="1191.61" width="10.8" height="10.4" fill="#0000ff" stroke="#000" stroke-width="1.5"/>
<rect x="381.88" y="1197.73" width="10.8" height="10.4" fill="#0000ff" stroke="#000" stroke-width="1.5"/>
<rect x="396.17" y="1213.35" width="10.8" height="10.4" fill="#0000ff" stroke="#000" stroke-width="1.5"/>
<rect x="410.46" y="1215.9" width="10.8" height="10.4" fill="#0000ff" stroke="#000" stroke-width="1.5"/>
<rect x="424.75" y="1228.3" width="10.8" height="10.4" fill="#0000ff" stroke="#000" stroke-width="1.5"/>
<rect x="439.04" y="1238.33" width="10.8" height="10.4" fill="#0000ff" stroke="#000" stroke-width="1.5"/>
<rect x="453.33" y="1257.52" width="10.8" height="10.4" fill="#0000ff" stroke="#000" stroke-width="1.5"/>
<rect x="467.62" y="1288.95" width="10.8" height="10.4" fill="#0000ff" stroke="#000" stroke-width="1.5"/>
<rect x="481.91" y="1328.87" width="10.8" height="10.4" fill="#0000ff" stroke="#000" stroke-width="1.5"/>
<rect x="496.2" y="1343.81" width="10.8" height="10.4" fill="#0000ff" stroke="#000" stroke-width="1.5"/>
<rect x="510.49" y="1343.81" width="10.8" height="10.4" fill="#0000ff" stroke="#000" stroke-width="1.5"/>
<rect x="524.78" y="1362.5" width="10.8" height="10.4" fill="#0000ff" stroke="#000" stroke-width="1.5"/>
<rect x="539.07" y="1335.49" width="10.8" height="10.4" fill="#0000ff" stroke="#000" stroke-width="1.5"/>
<rect x="553.36" y="1184.65" width="10.8" height="10.4" fill="#0000ff" stroke="#000" stroke-width="1.5"/>
<rect x="567.65" y="1106.68" width="10.8" height="10.4" fill="#0000ff" stroke="#000" stroke-width="1.5"/>
<rect x="581.94" y="1052.32" width="10.8" height="10.4" fill="#0000ff" stroke="#000" stroke-width="1.5"/>
<rect x="596.23" y="1005.6" width="10.8" height="10.4" fill="#0000ff" stroke="#000" stroke-width="1.5"/>
<rect x="610.52" y="971.12" width="10.8" height="10.4" fill="#0000ff" stroke="#000" stroke-width="1.5"/>
<rect x="624.81" y="950.06" width="10.8" height="10.4" fill="#0000ff" stroke="#000" stroke-width="1.5"/>
<rect x="639.1" y="933.92" width="10.8" height="10.4" fill="#0000ff" stroke="#000" stroke-width="1.5"/>
<rect x="653.39" y="921.69" width="10.8" height="10.4" fill="#0000ff" stroke="#000" stroke-width="1.5"/>
<rect x="667.68" y="908.1" width="10.8" height="10.4" fill="#0000ff" stroke="#000" stroke-width="1.5"/>
<rect x="681.97" y="895.36" width="10.8" height="10.4" fill="#0000ff" stroke="#000" stroke-width="1.5"/>
<rect x="696.26" y="887.03" width="10.8" height="10.4" fill="#0000ff" stroke="#000" stroke-width="1.5"/>
<rect x="710.55" y="881.94" width="10.8" height="10.4" fill="#0000ff" stroke="#000" stroke-width="1.5"/>
<rect x="724.84" y="878.37" width="10.8" height="10.4" fill="#0000ff" stroke="#000" stroke-width="1.5"/>
<rect x="739.13" y="876.5" width="10.8" height="10.4" fill="#0000ff" stroke="#000" stroke-width="1.5"/>
<rect x="753.42" y="875.82" width="10.8" height="10.4" fill="#0000ff" stroke="#000" stroke-width="1.5"/>
<rect x="767.71" y="875.82" width="10.8" height="10.4" fill="#0000ff" stroke="#000" stroke-width="1.5"/>
<rect x="782.0" y="876.16" width="10.8" height="10.4" fill="#0000ff" stroke="#000" stroke-width="1.5"/>
<rect x="796.29" y="876.84" width="10.8" height="10.4" fill="#0000ff" stroke="#000" stroke-width="1.5"/>
<rect x="810.58" y="877.86" width="10.8" height="10.4" fill="#0000ff" stroke="#000" stroke-width="1.5"/>
<rect x="824.87" y="879.39" width="10.8" height="10.4" fill="#0000ff" stroke="#000" stroke-width="1.5"/>
<rect x="839.16" y="881.94" width="10.8" height="10.4" fill="#0000ff" stroke="#000" stroke-width="1.5"/>
<rect x="853.45" y="884.83" width="10.8" height="10.4" fill="#0000ff" stroke="#000" stroke-width="1.5"/>
<rect x="867.74" y="888.73" width="10.8" height="10.4" fill="#0000ff" stroke="#000" stroke-width="1.5"/>
<rect x="882.03" y="893.49" width="10.8" height="10.4" fill="#0000ff" stroke="#000" stroke-width="1.5"/>
<rect x="896.32" y="899.6" width="10.8" height="10.4" fill="#0000ff" stroke="#000" stroke-width="1.5"/>
<rect x="910.61" y="907.25" width="10.8" height="10.4" fill="#0000ff" stroke="#000" stroke-width="1.5"/>
<rect x="924.9" y="918.46" width="10.8" height="10.4" fill="#0000ff" stroke="#000" stroke-width="1.5"/>
<polyline points="244.4,1367.7 258.7,1358.4 273.0,1349.4 287.2,1367.7 301.5,1358.4 315.8,1367.7 330.1,1367.7 344.4,1367.7 358.7,1367.7 373.0,1349.0 387.3,1311.8 401.6,1267.8 415.9,1262.7 430.1,1245.1 444.4,1236.1 458.7,1221.1 473.0,1210.7 487.3,1205.1 501.6,1210.7 515.9,1224.2 530.2,1232.8 544.5,1235.9 558.8,1253.4 573.0,1268.5 587.3,1322.3 601.6,1349.0 615.9,1349.0 630.2,1367.7 644.5,1367.7 658.8,1367.7 673.1,1352.4 687.4,1324.0 701.7,1306.0 715.9,1276.8 730.2,1255.1 744.5,1253.4 758.8,1255.1 773.1,1250.8 787.4,1245.7 801.7,1209.9 816.0,1175.1 830.3,1134.1 844.6,1093.9 858.8,1058.7 873.1,1030.0 887.4,1007.2 901.7,986.2 916.0,968.5 930.3,951.9" fill="none" stroke="#00ff00" stroke-width="4.8" stroke-linejoin="round" stroke-linecap="round"/>
<path d="M244.38 1361.0L251.68 1367.7L244.38 1374.4L237.08 1367.7Z" fill="#00ff00" stroke="#000" stroke-width="1.5" stroke-linejoin="miter"/>
<path d="M258.67 1351.66L265.97 1358.36L258.67 1365.06L251.37 1358.36Z" fill="#00ff00" stroke="#000" stroke-width="1.5" stroke-linejoin="miter"/>
<path d="M272.96 1342.65L280.26 1349.35L272.96 1356.05L265.66 1349.35Z" fill="#00ff00" stroke="#000" stroke-width="1.5" stroke-linejoin="miter"/>
<path d="M287.25 1361.0L294.55 1367.7L287.25 1374.4L279.95 1367.7Z" fill="#00ff00" stroke="#000" stroke-width="1.5" stroke-linejoin="miter"/>
<path d="M301.54 1351.66L308.84 1358.36L301.54 1365.06L294.24 1358.36Z" fill="#00ff00" stroke="#000" stroke-width="1.5" stroke-linejoin="miter"/>
<path d="M315.83 1361.0L323.13 1367.7L315.83 1374.4L308.53 1367.7Z" fill="#00ff00" stroke="#000" stroke-width="1.5" stroke-linejoin="miter"/>
<path d="M330.12 1361.0L337.42 1367.7L330.12 1374.4L322.82 1367.7Z" fill="#00ff00" stroke="#000" stroke-width="1.5" stroke-linejoin="miter"/>
<path d="M344.41 1361.0L351.71 1367.7L344.41 1374.4L337.11 1367.7Z" fill="#00ff00" stroke="#000" stroke-width="1.5" stroke-linejoin="miter"/>
<path d="M358.7 1361.0L366.0 1367.7L358.7 1374.4L351.4 1367.7Z" fill="#00ff00" stroke="#000" stroke-width="1.5" stroke-linejoin="miter"/>
<path d="M372.99 1342.31L380.29 1349.01L372.99 1355.71L365.69 1349.01Z" fill="#00ff00" stroke="#000" stroke-width="1.5" stroke-linejoin="miter"/>
<path d="M387.28 1305.11L394.58 1311.81L387.28 1318.51L379.98 1311.81Z" fill="#00ff00" stroke="#000" stroke-width="1.5" stroke-linejoin="miter"/>
<path d="M401.57 1261.12L408.87 1267.82L401.57 1274.52L394.27 1267.82Z" fill="#00ff00" stroke="#000" stroke-width="1.5" stroke-linejoin="miter"/>
<path d="M415.86 1256.02L423.16 1262.72L415.86 1269.42L408.56 1262.72Z" fill="#00ff00" stroke="#000" stroke-width="1.5" stroke-linejoin="miter"/>
<path d="M430.15 1238.35L437.45 1245.05L430.15 1251.75L422.85 1245.05Z" fill="#00ff00" stroke="#000" stroke-width="1.5" stroke-linejoin="miter"/>
<path d="M444.44 1229.35L451.74 1236.05L444.44 1242.75L437.14 1236.05Z" fill="#00ff00" stroke="#000" stroke-width="1.5" stroke-linejoin="miter"/>
<path d="M458.73 1214.4L466.03 1221.1L458.73 1227.8L451.43 1221.1Z" fill="#00ff00" stroke="#000" stroke-width="1.5" stroke-linejoin="miter"/>
<path d="M473.02 1204.04L480.32 1210.74L473.02 1217.44L465.72 1210.74Z" fill="#00ff00" stroke="#000" stroke-width="1.5" stroke-linejoin="miter"/>
<path d="M487.31 1198.43L494.61 1205.13L487.31 1211.83L480.01 1205.13Z" fill="#00ff00" stroke="#000" stroke-width="1.5" stroke-linejoin="miter"/>
<path d="M501.6 1204.04L508.9 1210.74L501.6 1217.44L494.3 1210.74Z" fill="#00ff00" stroke="#000" stroke-width="1.5" stroke-linejoin="miter"/>
<path d="M515.89 1217.46L523.19 1224.16L515.89 1230.86L508.59 1224.16Z" fill="#00ff00" stroke="#000" stroke-width="1.5" stroke-linejoin="miter"/>
<path d="M530.18 1226.12L537.48 1232.82L530.18 1239.52L522.88 1232.82Z" fill="#00ff00" stroke="#000" stroke-width="1.5" stroke-linejoin="miter"/>
<path d="M544.47 1229.18L551.77 1235.88L544.47 1242.58L537.17 1235.88Z" fill="#00ff00" stroke="#000" stroke-width="1.5" stroke-linejoin="miter"/>
<path d="M558.76 1246.68L566.06 1253.38L558.76 1260.08L551.46 1253.38Z" fill="#00ff00" stroke="#000" stroke-width="1.5" stroke-linejoin="miter"/>
<path d="M573.05 1261.8L580.35 1268.5L573.05 1275.2L565.75 1268.5Z" fill="#00ff00" stroke="#000" stroke-width="1.5" stroke-linejoin="miter"/>
<path d="M587.34 1315.64L594.64 1322.34L587.34 1329.04L580.04 1322.34Z" fill="#00ff00" stroke="#000" stroke-width="1.5" stroke-linejoin="miter"/>
<path d="M601.63 1342.31L608.93 1349.01L601.63 1355.71L594.33 1349.01Z" fill="#00ff00" stroke="#000" stroke-width="1.5" stroke-linejoin="miter"/>
<path d="M615.92 1342.31L623.22 1349.01L615.92 1355.71L608.62 1349.01Z" fill="#00ff00" stroke="#000" stroke-width="1.5" stroke-linejoin="miter"/>
<path d="M630.21 1361.0L637.51 1367.7L630.21 1374.4L622.91 1367.7Z" fill="#00ff00" stroke="#000" stroke-width="1.5" stroke-linejoin="miter"/>
<path d="M644.5 1361.0L651.8 1367.7L644.5 1374.4L637.2 1367.7Z" fill="#00ff00" stroke="#000" stroke-width="1.5" stroke-linejoin="miter"/>
<path d="M658.79 1361.0L666.09 1367.7L658.79 1374.4L651.49 1367.7Z" fill="#00ff00" stroke="#000" stroke-width="1.5" stroke-linejoin="miter"/>
<path d="M673.08 1345.71L680.38 1352.41L673.08 1359.11L665.78 1352.41Z" fill="#00ff00" stroke="#000" stroke-width="1.5" stroke-linejoin="miter"/>
<path d="M687.37 1317.34L694.67 1324.04L687.37 1330.74L680.07 1324.04Z" fill="#00ff00" stroke="#000" stroke-width="1.5" stroke-linejoin="miter"/>
<path d="M701.66 1299.34L708.96 1306.04L701.66 1312.74L694.36 1306.04Z" fill="#00ff00" stroke="#000" stroke-width="1.5" stroke-linejoin="miter"/>
<path d="M715.95 1270.12L723.25 1276.82L715.95 1283.52L708.65 1276.82Z" fill="#00ff00" stroke="#000" stroke-width="1.5" stroke-linejoin="miter"/>
<path d="M730.24 1248.38L737.54 1255.08L730.24 1261.78L722.94 1255.08Z" fill="#00ff00" stroke="#000" stroke-width="1.5" stroke-linejoin="miter"/>
<path d="M744.53 1246.68L751.83 1253.38L744.53 1260.08L737.23 1253.38Z" fill="#00ff00" stroke="#000" stroke-width="1.5" stroke-linejoin="miter"/>
<path d="M758.82 1248.38L766.12 1255.08L758.82 1261.78L751.52 1255.08Z" fill="#00ff00" stroke="#000" stroke-width="1.5" stroke-linejoin="miter"/>
<path d="M773.11 1244.13L780.41 1250.83L773.11 1257.53L765.81 1250.83Z" fill="#00ff00" stroke="#000" stroke-width="1.5" stroke-linejoin="miter"/>
<path d="M787.4 1239.03L794.7 1245.73L787.4 1252.43L780.1 1245.73Z" fill="#00ff00" stroke="#000" stroke-width="1.5" stroke-linejoin="miter"/>
<path d="M801.69 1203.19L808.99 1209.89L801.69 1216.59L794.39 1209.89Z" fill="#00ff00" stroke="#000" stroke-width="1.5" stroke-linejoin="miter"/>
<path d="M815.98 1168.37L823.28 1175.07L815.98 1181.77L808.68 1175.07Z" fill="#00ff00" stroke="#000" stroke-width="1.5" stroke-linejoin="miter"/>
<path d="M830.27 1127.43L837.57 1134.13L830.27 1140.83L822.97 1134.13Z" fill="#00ff00" stroke="#000" stroke-width="1.5" stroke-linejoin="miter"/>
<path d="M844.56 1087.17L851.86 1093.87L844.56 1100.57L837.26 1093.87Z" fill="#00ff00" stroke="#000" stroke-width="1.5" stroke-linejoin="miter"/>
<path d="M858.85 1052.01L866.15 1058.71L858.85 1065.41L851.55 1058.71Z" fill="#00ff00" stroke="#000" stroke-width="1.5" stroke-linejoin="miter"/>
<path d="M873.14 1023.3L880.44 1030.0L873.14 1036.7L865.84 1030.0Z" fill="#00ff00" stroke="#000" stroke-width="1.5" stroke-linejoin="miter"/>
<path d="M887.43 1000.54L894.73 1007.24L887.43 1013.94L880.13 1007.24Z" fill="#00ff00" stroke="#000" stroke-width="1.5" stroke-linejoin="miter"/>
<path d="M901.72 979.47L909.02 986.17L901.72 992.87L894.42 986.17Z" fill="#00ff00" stroke="#000" stroke-width="1.5" stroke-linejoin="miter"/>
<path d="M916.01 961.81L923.31 968.51L916.01 975.21L908.71 968.51Z" fill="#00ff00" stroke="#000" stroke-width="1.5" stroke-linejoin="miter"/>
<path d="M930.3 945.16L937.6 951.86L930.3 958.56L923.0 951.86Z" fill="#00ff00" stroke="#000" stroke-width="1.5" stroke-linejoin="miter"/>
<polyline points="458.7,1367.7 473.0,1358.4 487.3,1341.4 501.6,1320.8 515.9,1298.1 530.2,1283.3 544.5,1281.9 558.8,1268.3 573.0,1260.3 587.3,1245.4 601.6,1242.2 615.9,1242.2 630.2,1242.2 644.5,1245.4 658.8,1256.4 673.1,1268.8 687.4,1280.4 701.7,1294.8 715.9,1303.8 730.2,1307.7 744.5,1312.2 758.8,1335.4 773.1,1342.7 787.4,1342.7 801.7,1367.7 816.0,1367.7 830.3,1367.7 844.6,1367.7 858.8,1367.7 873.1,1367.7 887.4,1353.3 901.7,1313.3 916.0,1264.1 930.3,1209.2" fill="none" stroke="#ff00ff" stroke-width="4.8" stroke-linejoin="round" stroke-linecap="round"/>
<use href="#fem" x="458.73" y="1367.7"/>
<use href="#fem" x="473.02" y="1358.36"/>
<use href="#fem" x="487.31" y="1341.37"/>
<use href="#fem" x="501.6" y="1320.82"/>
<use href="#fem" x="515.89" y="1298.05"/>
<use href="#fem" x="530.18" y="1283.27"/>
<use href="#fem" x="544.47" y="1281.92"/>
<use href="#fem" x="558.76" y="1268.33"/>
<use href="#fem" x="573.05" y="1260.34"/>
<use href="#fem" x="587.34" y="1245.39"/>
<use href="#fem" x="601.63" y="1242.17"/>
<use href="#fem" x="615.92" y="1242.17"/>
<use href="#fem" x="630.21" y="1242.17"/>
<use href="#fem" x="644.5" y="1245.39"/>
<use href="#fem" x="658.79" y="1256.44"/>
<use href="#fem" x="673.08" y="1268.84"/>
<use href="#fem" x="687.37" y="1280.39"/>
<use href="#fem" x="701.66" y="1294.83"/>
<use href="#fem" x="715.95" y="1303.83"/>
<use href="#fem" x="730.24" y="1307.74"/>
<use href="#fem" x="744.53" y="1312.15"/>
<use href="#fem" x="758.82" y="1335.42"/>
<use href="#fem" x="773.11" y="1342.73"/>
<use href="#fem" x="787.4" y="1342.73"/>
<use href="#fem" x="801.69" y="1367.7"/>
<use href="#fem" x="815.98" y="1367.7"/>
<use href="#fem" x="830.27" y="1367.7"/>
<use href="#fem" x="844.56" y="1367.7"/>
<use href="#fem" x="858.85" y="1367.7"/>
<use href="#fem" x="873.14" y="1367.7"/>
<use href="#fem" x="887.43" y="1353.26"/>
<use href="#fem" x="901.72" y="1313.34"/>
<use href="#fem" x="916.01" y="1264.08"/>
<use href="#fem" x="930.3" y="1209.21"/>
<polyline points="458.7,1367.7 473.0,1359.9 487.3,1341.5 501.6,1322.7 515.9,1298.2 530.2,1284.3 544.5,1280.4 558.8,1268.3 573.0,1261.7 587.3,1247.6 601.6,1245.4 615.9,1248.6 630.2,1248.6 644.5,1255.9 658.8,1268.3 673.1,1274.4 687.4,1290.2 701.7,1297.5 715.9,1306.7 730.2,1316.9 744.5,1341.5 758.8,1349.2 773.1,1367.7 787.4,1367.7 801.7,1367.7 816.0,1367.7 830.3,1367.7 844.6,1367.7 858.8,1367.7 873.1,1367.7 887.4,1353.4 901.7,1315.2 916.0,1265.9 930.3,1211.1" fill="none" stroke="#ffff00" stroke-width="4.5" stroke-linejoin="round" stroke-linecap="round"/>
<use href="#mal" x="458.73" y="1367.7"/>
<use href="#mal" x="473.02" y="1359.89"/>
<use href="#mal" x="487.31" y="1341.54"/>
<use href="#mal" x="501.6" y="1322.68"/>
<use href="#mal" x="515.89" y="1298.22"/>
<use href="#mal" x="530.18" y="1284.29"/>
<use href="#mal" x="544.47" y="1280.39"/>
<use href="#mal" x="558.76" y="1268.33"/>
<use href="#mal" x="573.05" y="1261.7"/>
<use href="#mal" x="587.34" y="1247.6"/>
<use href="#mal" x="601.63" y="1245.39"/>
<use href="#mal" x="615.92" y="1248.62"/>
<use href="#mal" x="630.21" y="1248.62"/>
<use href="#mal" x="644.5" y="1255.93"/>
<use href="#mal" x="658.79" y="1268.33"/>
<use href="#mal" x="673.08" y="1274.44"/>
<use href="#mal" x="687.37" y="1290.24"/>
<use href="#mal" x="701.66" y="1297.54"/>
<use href="#mal" x="715.95" y="1306.72"/>
<use href="#mal" x="730.24" y="1316.91"/>
<use href="#mal" x="744.53" y="1341.54"/>
<use href="#mal" x="758.82" y="1349.18"/>
<use href="#mal" x="773.11" y="1367.7"/>
<use href="#mal" x="787.4" y="1367.7"/>
<use href="#mal" x="801.69" y="1367.7"/>
<use href="#mal" x="815.98" y="1367.7"/>
<use href="#mal" x="830.27" y="1367.7"/>
<use href="#mal" x="844.56" y="1367.7"/>
<use href="#mal" x="858.85" y="1367.7"/>
<use href="#mal" x="873.14" y="1367.7"/>
<use href="#mal" x="887.43" y="1353.43"/>
<use href="#mal" x="901.72" y="1315.21"/>
<use href="#mal" x="916.01" y="1265.95"/>
<use href="#mal" x="930.3" y="1211.08"/>
</g>
<rect x="92.7" y="841.1" width="158.2" height="158.6" fill="#fff" stroke="#000" stroke-width="1.7"/>
<path d="M106.3 865.9H156.9" stroke="#ff0000" stroke-width="4.8" stroke-linecap="round"/>
<ellipse cx="130.8" cy="865.9" rx="5.25" ry="5.25" fill="#ff0000" stroke="#000" stroke-width="1.5"/>
<text transform="translate(169.8 873.5) scale(1 1.003)" font-family="Liberation Serif, Times New Roman, serif" font-size="20.4" textLength="33.5" lengthAdjust="spacingAndGlyphs" fill="#000" xml:space="preserve">Egg</text>
<path d="M106.3 893.1H156.9" stroke="#0000ff" stroke-width="4.8" stroke-linecap="round"/>
<rect x="126.2" y="887.9" width="10.8" height="10.4" fill="#0000ff" stroke="#000" stroke-width="1.5"/>
<text transform="translate(169.8 900.7) scale(1 1.003)" font-family="Liberation Serif, Times New Roman, serif" font-size="20.4" textLength="48.69" lengthAdjust="spacingAndGlyphs" fill="#000" xml:space="preserve">Larva</text>
<path d="M106.3 920.3H156.9" stroke="#00ff00" stroke-width="4.8" stroke-linecap="round"/>
<path d="M131.6 913.6L138.9 920.3L131.6 927.0L124.3 920.3Z" fill="#00ff00" stroke="#000" stroke-width="1.5" stroke-linejoin="miter"/>
<text transform="translate(169.78 927.9) scale(1 1.003)" font-family="Liberation Serif, Times New Roman, serif" font-size="20.4" textLength="43.01" lengthAdjust="spacingAndGlyphs" fill="#000" xml:space="preserve">Pupa</text>
<path d="M106.3 947.5H156.9" stroke="#ff00ff" stroke-width="4.8" stroke-linecap="round"/>
<use href="#fem" x="131.6" y="947.5"/>
<text transform="translate(169.79 955.1) scale(1 1.003)" font-family="Liberation Serif, Times New Roman, serif" font-size="20.4" textLength="62.14" lengthAdjust="spacingAndGlyphs" fill="#000" xml:space="preserve">Female</text>
<path d="M106.3 974.7H156.9" stroke="#ffff00" stroke-width="4.6" stroke-linecap="round"/>
<use href="#mal" x="131.6" y="974.7"/>
<text transform="translate(169.79 982.3) scale(1 1.003)" font-family="Liberation Serif, Times New Roman, serif" font-size="20.4" textLength="43.65" lengthAdjust="spacingAndGlyphs" fill="#000" xml:space="preserve">Male</text>
<text transform="translate(112.93 819.8) scale(1 1.025)" font-family="Liberation Serif, Times New Roman, serif" font-size="22.2" font-weight="bold" textLength="62.89" lengthAdjust="spacingAndGlyphs" fill="#000" xml:space="preserve">Barley</text>
<text transform="translate(440.67 1443.6) scale(1 0.965)" font-family="Liberation Serif, Times New Roman, serif" font-size="22.0" font-weight="bold" textLength="46.47" lengthAdjust="spacingAndGlyphs" fill="#000" xml:space="preserve">Time</text>
<text transform="translate(493.75 1443.6) scale(1 0.965)" font-family="Liberation Serif, Times New Roman, serif" font-size="22.0" font-weight="bold" textLength="8.69" lengthAdjust="spacingAndGlyphs" fill="#000" xml:space="preserve">(</text>
<text transform="translate(506.99 1443.6) scale(1 0.965)" font-family="Liberation Serif, Times New Roman, serif" font-size="22.0" font-weight="bold" textLength="56.83" lengthAdjust="spacingAndGlyphs" fill="#000" xml:space="preserve">Days)</text>
<text transform="translate(20.7 1181.14) rotate(-90) scale(1 1.179)" font-family="Liberation Serif, Times New Roman, serif" font-size="20.09" font-weight="bold" textLength="225.13" lengthAdjust="spacingAndGlyphs" fill="#000" xml:space="preserve">Population size (log (n+1))</text>
<clipPath id="cp3"><rect x="58.3" y="1493.0" width="885.9000000000001" height="641.9000000000001"/></clipPath>
<path d="M68.3 1493.0H934.2V2122.9H68.3Z" fill="none" stroke="#000" stroke-width="1.8"/>
<path d="M68.3 2122.9v8.0M97.09 2122.9v5.0M125.88 2122.9v5.0M154.67 2122.9v5.0M183.46 2122.9v5.0M212.25 2122.9v8.0M241.04 2122.9v5.0M269.83 2122.9v5.0M298.62 2122.9v5.0M327.41 2122.9v5.0M356.2 2122.9v8.0M384.99 2122.9v5.0M413.78 2122.9v5.0M442.57 2122.9v5.0M471.36 2122.9v5.0M500.15 2122.9v8.0M528.94 2122.9v5.0M557.73 2122.9v5.0M586.52 2122.9v5.0M615.31 2122.9v5.0M644.1 2122.9v8.0M672.89 2122.9v5.0M701.68 2122.9v5.0M730.47 2122.9v5.0M759.26 2122.9v5.0M788.05 2122.9v8.0M816.84 2122.9v5.0M845.63 2122.9v5.0M874.42 2122.9v5.0M903.21 2122.9v5.0M932.0 2122.9v8.0M68.3 2122.9h-7.5M68.3 2086.93h-4.6M68.3 2050.95h-4.6M68.3 2014.98h-4.6M68.3 1979.0h-4.6M68.3 1943.03h-7.5M68.3 1907.06h-4.6M68.3 1871.08h-4.6M68.3 1835.11h-4.6M68.3 1799.13h-4.6M68.3 1763.16h-7.5M68.3 1727.19h-4.6M68.3 1691.21h-4.6M68.3 1655.24h-4.6M68.3 1619.26h-4.6M68.3 1583.29h-7.5M68.3 1547.32h-4.6M68.3 1511.34h-4.6" stroke="#000" stroke-width="1.6" fill="none"/>
<text transform="translate(68.3 2159.3) scale(1 1.06)" font-family="Liberation Sans, Arial, sans-serif" font-size="18.7" text-anchor="middle" fill="#000" xml:space="preserve">0</text>
<text transform="translate(212.25 2159.3) scale(1 1.06)" font-family="Liberation Sans, Arial, sans-serif" font-size="18.7" text-anchor="middle" fill="#000" xml:space="preserve">10</text>
<text transform="translate(356.2 2159.3) scale(1 1.06)" font-family="Liberation Sans, Arial, sans-serif" font-size="18.7" text-anchor="middle" fill="#000" xml:space="preserve">20</text>
<text transform="translate(500.15 2159.3) scale(1 1.06)" font-family="Liberation Sans, Arial, sans-serif" font-size="18.7" text-anchor="middle" fill="#000" xml:space="preserve">30</text>
<text transform="translate(644.1 2159.3) scale(1 1.06)" font-family="Liberation Sans, Arial, sans-serif" font-size="18.7" text-anchor="middle" fill="#000" xml:space="preserve">40</text>
<text transform="translate(788.05 2159.3) scale(1 1.06)" font-family="Liberation Sans, Arial, sans-serif" font-size="18.7" text-anchor="middle" fill="#000" xml:space="preserve">50</text>
<text transform="translate(932.0 2159.3) scale(1 1.06)" font-family="Liberation Sans, Arial, sans-serif" font-size="18.7" text-anchor="middle" fill="#000" xml:space="preserve">60</text>
<text transform="translate(51.9 2130.2) scale(1 1.06)" font-family="Liberation Sans, Arial, sans-serif" font-size="18.7" text-anchor="end" fill="#000" xml:space="preserve">0</text>
<text transform="translate(51.9 1950.33) scale(1 1.06)" font-family="Liberation Sans, Arial, sans-serif" font-size="18.7" text-anchor="end" fill="#000" xml:space="preserve">1</text>
<text transform="translate(51.9 1770.46) scale(1 1.06)" font-family="Liberation Sans, Arial, sans-serif" font-size="18.7" text-anchor="end" fill="#000" xml:space="preserve">2</text>
<text transform="translate(51.9 1590.59) scale(1 1.06)" font-family="Liberation Sans, Arial, sans-serif" font-size="18.7" text-anchor="end" fill="#000" xml:space="preserve">3</text>
<g clip-path="url(#cp3)">
<polyline points="68.3,1935.3 82.7,1935.3 97.1,1935.3 111.5,1935.3 125.9,1935.3 140.3,1988.9 154.7,2122.9 169.1,2122.9 183.5,2122.9 197.9,2122.9 212.2,2122.9 226.6,2122.9 241.0,2122.9 255.4,2122.9 269.8,2122.9 284.2,2122.9 298.6,2122.9 313.0,2122.9 327.4,2122.9 341.8,2122.9 356.2,2122.9 370.6,2122.9 385.0,2122.9 399.4,2122.9 413.8,2122.9 428.2,2122.9 442.6,1899.4 457.0,1805.1 471.4,1764.2 485.8,1735.7 500.2,1685.7 514.5,1659.3 528.9,1640.7 543.3,1627.9 557.7,1619.7 572.1,1615.0 586.5,1613.6 600.9,1616.1 615.3,1620.8 629.7,1627.4 644.1,1637.1 658.5,1653.7 672.9,1674.2 687.3,1700.2 701.7,1731.6 716.1,1766.9 730.5,1807.0 744.9,1858.7 759.3,1927.6 773.7,2002.2 788.1,2077.4 802.4,2122.9 816.8,1862.6 831.2,1725.3 845.6,1644.2 860.0,1590.3 874.4,1535.2 888.8,1475.5 903.2,1421.7 917.6,1385.9 932.0,1350.0" fill="none" stroke="#ff0000" stroke-width="4.8" stroke-linejoin="round" stroke-linecap="round"/>
<ellipse cx="67.6" cy="1935.3" rx="5.25" ry="5.3" fill="#ff0000" stroke="#000" stroke-width="1.5"/>
<ellipse cx="81.99" cy="1935.3" rx="5.25" ry="5.3" fill="#ff0000" stroke="#000" stroke-width="1.5"/>
<ellipse cx="96.39" cy="1935.3" rx="5.25" ry="5.3" fill="#ff0000" stroke="#000" stroke-width="1.5"/>
<ellipse cx="110.78" cy="1935.3" rx="5.25" ry="5.3" fill="#ff0000" stroke="#000" stroke-width="1.5"/>
<ellipse cx="125.18" cy="1935.3" rx="5.25" ry="5.3" fill="#ff0000" stroke="#000" stroke-width="1.5"/>
<ellipse cx="139.58" cy="1988.9" rx="5.25" ry="5.3" fill="#ff0000" stroke="#000" stroke-width="1.5"/>
<ellipse cx="153.97" cy="2122.9" rx="5.25" ry="5.3" fill="#ff0000" stroke="#000" stroke-width="1.5"/>
<ellipse cx="168.37" cy="2122.9" rx="5.25" ry="5.3" fill="#ff0000" stroke="#000" stroke-width="1.5"/>
<ellipse cx="182.76" cy="2122.9" rx="5.25" ry="5.3" fill="#ff0000" stroke="#000" stroke-width="1.5"/>
<ellipse cx="197.16" cy="2122.9" rx="5.25" ry="5.3" fill="#ff0000" stroke="#000" stroke-width="1.5"/>
<ellipse cx="211.55" cy="2122.9" rx="5.25" ry="5.3" fill="#ff0000" stroke="#000" stroke-width="1.5"/>
<ellipse cx="225.95" cy="2122.9" rx="5.25" ry="5.3" fill="#ff0000" stroke="#000" stroke-width="1.5"/>
<ellipse cx="240.34" cy="2122.9" rx="5.25" ry="5.3" fill="#ff0000" stroke="#000" stroke-width="1.5"/>
<ellipse cx="254.74" cy="2122.9" rx="5.25" ry="5.3" fill="#ff0000" stroke="#000" stroke-width="1.5"/>
<ellipse cx="269.13" cy="2122.9" rx="5.25" ry="5.3" fill="#ff0000" stroke="#000" stroke-width="1.5"/>
<ellipse cx="283.53" cy="2122.9" rx="5.25" ry="5.3" fill="#ff0000" stroke="#000" stroke-width="1.5"/>
<ellipse cx="297.92" cy="2122.9" rx="5.25" ry="5.3" fill="#ff0000" stroke="#000" stroke-width="1.5"/>
<ellipse cx="312.32" cy="2122.9" rx="5.25" ry="5.3" fill="#ff0000" stroke="#000" stroke-width="1.5"/>
<ellipse cx="326.71" cy="2122.9" rx="5.25" ry="5.3" fill="#ff0000" stroke="#000" stroke-width="1.5"/>
<ellipse cx="341.11" cy="2122.9" rx="5.25" ry="5.3" fill="#ff0000" stroke="#000" stroke-width="1.5"/>
<ellipse cx="355.5" cy="2122.9" rx="5.25" ry="5.3" fill="#ff0000" stroke="#000" stroke-width="1.5"/>
<ellipse cx="369.9" cy="2122.9" rx="5.25" ry="5.3" fill="#ff0000" stroke="#000" stroke-width="1.5"/>
<ellipse cx="384.29" cy="2122.9" rx="5.25" ry="5.3" fill="#ff0000" stroke="#000" stroke-width="1.5"/>
<ellipse cx="398.69" cy="2122.9" rx="5.25" ry="5.3" fill="#ff0000" stroke="#000" stroke-width="1.5"/>
<ellipse cx="413.08" cy="2122.9" rx="5.25" ry="5.3" fill="#ff0000" stroke="#000" stroke-width="1.5"/>
<ellipse cx="427.48" cy="2122.9" rx="5.25" ry="5.3" fill="#ff0000" stroke="#000" stroke-width="1.5"/>
<ellipse cx="441.87" cy="1899.39" rx="5.25" ry="5.3" fill="#ff0000" stroke="#000" stroke-width="1.5"/>
<ellipse cx="456.27" cy="1805.07" rx="5.25" ry="5.3" fill="#ff0000" stroke="#000" stroke-width="1.5"/>
<ellipse cx="470.66" cy="1764.19" rx="5.25" ry="5.3" fill="#ff0000" stroke="#000" stroke-width="1.5"/>
<ellipse cx="485.06" cy="1735.68" rx="5.25" ry="5.3" fill="#ff0000" stroke="#000" stroke-width="1.5"/>
<ellipse cx="499.45" cy="1685.66" rx="5.25" ry="5.3" fill="#ff0000" stroke="#000" stroke-width="1.5"/>
<ellipse cx="513.85" cy="1659.3" rx="5.25" ry="5.3" fill="#ff0000" stroke="#000" stroke-width="1.5"/>
<ellipse cx="528.24" cy="1640.66" rx="5.25" ry="5.3" fill="#ff0000" stroke="#000" stroke-width="1.5"/>
<ellipse cx="542.63" cy="1627.92" rx="5.25" ry="5.3" fill="#ff0000" stroke="#000" stroke-width="1.5"/>
<ellipse cx="557.03" cy="1619.68" rx="5.25" ry="5.3" fill="#ff0000" stroke="#000" stroke-width="1.5"/>
<ellipse cx="571.42" cy="1615.02" rx="5.25" ry="5.3" fill="#ff0000" stroke="#000" stroke-width="1.5"/>
<ellipse cx="585.82" cy="1613.58" rx="5.25" ry="5.3" fill="#ff0000" stroke="#000" stroke-width="1.5"/>
<ellipse cx="600.21" cy="1616.09" rx="5.25" ry="5.3" fill="#ff0000" stroke="#000" stroke-width="1.5"/>
<ellipse cx="614.61" cy="1620.75" rx="5.25" ry="5.3" fill="#ff0000" stroke="#000" stroke-width="1.5"/>
<ellipse cx="629.0" cy="1627.39" rx="5.25" ry="5.3" fill="#ff0000" stroke="#000" stroke-width="1.5"/>
<ellipse cx="643.4" cy="1637.07" rx="5.25" ry="5.3" fill="#ff0000" stroke="#000" stroke-width="1.5"/>
<ellipse cx="657.79" cy="1653.74" rx="5.25" ry="5.3" fill="#ff0000" stroke="#000" stroke-width="1.5"/>
<ellipse cx="672.19" cy="1674.18" rx="5.25" ry="5.3" fill="#ff0000" stroke="#000" stroke-width="1.5"/>
<ellipse cx="686.58" cy="1700.18" rx="5.25" ry="5.3" fill="#ff0000" stroke="#000" stroke-width="1.5"/>
<ellipse cx="700.98" cy="1731.56" rx="5.25" ry="5.3" fill="#ff0000" stroke="#000" stroke-width="1.5"/>
<ellipse cx="715.38" cy="1766.88" rx="5.25" ry="5.3" fill="#ff0000" stroke="#000" stroke-width="1.5"/>
<ellipse cx="729.77" cy="1807.05" rx="5.25" ry="5.3" fill="#ff0000" stroke="#000" stroke-width="1.5"/>
<ellipse cx="744.16" cy="1858.68" rx="5.25" ry="5.3" fill="#ff0000" stroke="#000" stroke-width="1.5"/>
<ellipse cx="758.56" cy="1927.56" rx="5.25" ry="5.3" fill="#ff0000" stroke="#000" stroke-width="1.5"/>
<ellipse cx="772.95" cy="2002.21" rx="5.25" ry="5.3" fill="#ff0000" stroke="#000" stroke-width="1.5"/>
<ellipse cx="787.35" cy="2077.39" rx="5.25" ry="5.3" fill="#ff0000" stroke="#000" stroke-width="1.5"/>
<ellipse cx="801.75" cy="2122.9" rx="5.25" ry="5.3" fill="#ff0000" stroke="#000" stroke-width="1.5"/>
<ellipse cx="816.14" cy="1862.63" rx="5.25" ry="5.3" fill="#ff0000" stroke="#000" stroke-width="1.5"/>
<ellipse cx="830.53" cy="1725.28" rx="5.25" ry="5.3" fill="#ff0000" stroke="#000" stroke-width="1.5"/>
<ellipse cx="844.93" cy="1644.24" rx="5.25" ry="5.3" fill="#ff0000" stroke="#000" stroke-width="1.5"/>
<ellipse cx="859.32" cy="1590.27" rx="5.25" ry="5.3" fill="#ff0000" stroke="#000" stroke-width="1.5"/>
<ellipse cx="873.72" cy="1535.23" rx="5.25" ry="5.3" fill="#ff0000" stroke="#000" stroke-width="1.5"/>
<ellipse cx="888.12" cy="1475.52" rx="5.25" ry="5.3" fill="#ff0000" stroke="#000" stroke-width="1.5"/>
<ellipse cx="902.51" cy="1421.73" rx="5.25" ry="5.3" fill="#ff0000" stroke="#000" stroke-width="1.5"/>
<ellipse cx="916.9" cy="1385.87" rx="5.25" ry="5.3" fill="#ff0000" stroke="#000" stroke-width="1.5"/>
<ellipse cx="931.3" cy="1350.01" rx="5.25" ry="5.3" fill="#ff0000" stroke="#000" stroke-width="1.5"/>
<polyline points="125.9,2122.9 140.3,1977.4 154.7,1935.3 169.1,1935.3 183.5,1935.3 197.9,1935.3 212.2,1935.3 226.6,1935.3 241.0,1939.1 255.4,1939.6 269.8,1939.6 284.2,1939.6 298.6,1939.6 313.0,1939.6 327.4,1939.6 341.8,1945.7 356.2,1948.8 370.6,1958.7 385.0,1968.0 399.4,1983.9 413.8,2007.2 428.2,2011.6 442.6,2024.0 457.0,2036.6 471.4,2063.4 485.8,2074.3 500.2,2122.9 514.5,1943.6 528.9,1835.4 543.3,1780.2 557.7,1747.5 572.1,1704.3 586.5,1669.0 600.9,1644.4 615.3,1625.4 629.7,1611.1 644.1,1599.8 658.5,1587.8 672.9,1579.5 687.3,1573.1 701.7,1567.9 716.1,1565.0 730.5,1563.4 744.9,1562.5 759.3,1562.8 773.7,1564.1 788.1,1565.7 802.4,1568.6 816.8,1572.7 831.2,1576.8 845.6,1584.0 860.0,1591.3 874.4,1599.8 888.8,1608.0 903.2,1609.3 917.6,1596.2 932.0,1573.4" fill="none" stroke="#0000ff" stroke-width="4.8" stroke-linejoin="round" stroke-linecap="round"/>
<ellipse cx="125.18" cy="2122.9" rx="5.25" ry="5.3" fill="#0000ff" stroke="#000" stroke-width="1.5"/>
<ellipse cx="139.58" cy="1977.39" rx="5.25" ry="5.3" fill="#0000ff" stroke="#000" stroke-width="1.5"/>
<ellipse cx="153.97" cy="1935.3" rx="5.25" ry="5.3" fill="#0000ff" stroke="#000" stroke-width="1.5"/>
<ellipse cx="168.37" cy="1935.3" rx="5.25" ry="5.3" fill="#0000ff" stroke="#000" stroke-width="1.5"/>
<ellipse cx="182.76" cy="1935.3" rx="5.25" ry="5.3" fill="#0000ff" stroke="#000" stroke-width="1.5"/>
<ellipse cx="197.16" cy="1935.3" rx="5.25" ry="5.3" fill="#0000ff" stroke="#000" stroke-width="1.5"/>
<ellipse cx="211.55" cy="1935.3" rx="5.25" ry="5.3" fill="#0000ff" stroke="#000" stroke-width="1.5"/>
<ellipse cx="225.95" cy="1935.3" rx="5.25" ry="5.3" fill="#0000ff" stroke="#000" stroke-width="1.5"/>
<ellipse cx="240.34" cy="1939.07" rx="5.25" ry="5.3" fill="#0000ff" stroke="#000" stroke-width="1.5"/>
<ellipse cx="254.74" cy="1939.61" rx="5.25" ry="5.3" fill="#0000ff" stroke="#000" stroke-width="1.5"/>
<ellipse cx="269.13" cy="1939.61" rx="5.25" ry="5.3" fill="#0000ff" stroke="#000" stroke-width="1.5"/>
<ellipse cx="283.53" cy="1939.61" rx="5.25" ry="5.3" fill="#0000ff" stroke="#000" stroke-width="1.5"/>
<ellipse cx="297.92" cy="1939.61" rx="5.25" ry="5.3" fill="#0000ff" stroke="#000" stroke-width="1.5"/>
<ellipse cx="312.32" cy="1939.61" rx="5.25" ry="5.3" fill="#0000ff" stroke="#000" stroke-width="1.5"/>
<ellipse cx="326.71" cy="1939.61" rx="5.25" ry="5.3" fill="#0000ff" stroke="#000" stroke-width="1.5"/>
<ellipse cx="341.11" cy="1945.73" rx="5.25" ry="5.3" fill="#0000ff" stroke="#000" stroke-width="1.5"/>
<ellipse cx="355.5" cy="1948.79" rx="5.25" ry="5.3" fill="#0000ff" stroke="#000" stroke-width="1.5"/>
<ellipse cx="369.9" cy="1958.68" rx="5.25" ry="5.3" fill="#0000ff" stroke="#000" stroke-width="1.5"/>
<ellipse cx="384.29" cy="1968.03" rx="5.25" ry="5.3" fill="#0000ff" stroke="#000" stroke-width="1.5"/>
<ellipse cx="398.69" cy="1983.86" rx="5.25" ry="5.3" fill="#0000ff" stroke="#000" stroke-width="1.5"/>
<ellipse cx="413.08" cy="2007.24" rx="5.25" ry="5.3" fill="#0000ff" stroke="#000" stroke-width="1.5"/>
<ellipse cx="427.48" cy="2011.56" rx="5.25" ry="5.3" fill="#0000ff" stroke="#000" stroke-width="1.5"/>
<ellipse cx="441.87" cy="2023.97" rx="5.25" ry="5.3" fill="#0000ff" stroke="#000" stroke-width="1.5"/>
<ellipse cx="456.27" cy="2036.56" rx="5.25" ry="5.3" fill="#0000ff" stroke="#000" stroke-width="1.5"/>
<ellipse cx="470.66" cy="2063.36" rx="5.25" ry="5.3" fill="#0000ff" stroke="#000" stroke-width="1.5"/>
<ellipse cx="485.06" cy="2074.34" rx="5.25" ry="5.3" fill="#0000ff" stroke="#000" stroke-width="1.5"/>
<ellipse cx="499.45" cy="2122.9" rx="5.25" ry="5.3" fill="#0000ff" stroke="#000" stroke-width="1.5"/>
<ellipse cx="513.85" cy="1943.57" rx="5.25" ry="5.3" fill="#0000ff" stroke="#000" stroke-width="1.5"/>
<ellipse cx="528.24" cy="1835.38" rx="5.25" ry="5.3" fill="#0000ff" stroke="#000" stroke-width="1.5"/>
<ellipse cx="542.63" cy="1780.15" rx="5.25" ry="5.3" fill="#0000ff" stroke="#000" stroke-width="1.5"/>
<ellipse cx="557.03" cy="1747.52" rx="5.25" ry="5.3" fill="#0000ff" stroke="#000" stroke-width="1.5"/>
<ellipse cx="571.42" cy="1704.31" rx="5.25" ry="5.3" fill="#0000ff" stroke="#000" stroke-width="1.5"/>
<ellipse cx="585.82" cy="1668.98" rx="5.25" ry="5.3" fill="#0000ff" stroke="#000" stroke-width="1.5"/>
<ellipse cx="600.21" cy="1644.42" rx="5.25" ry="5.3" fill="#0000ff" stroke="#000" stroke-width="1.5"/>
<ellipse cx="614.61" cy="1625.41" rx="5.25" ry="5.3" fill="#0000ff" stroke="#000" stroke-width="1.5"/>
<ellipse cx="629.0" cy="1611.07" rx="5.25" ry="5.3" fill="#0000ff" stroke="#000" stroke-width="1.5"/>
<ellipse cx="643.4" cy="1599.77" rx="5.25" ry="5.3" fill="#0000ff" stroke="#000" stroke-width="1.5"/>
<ellipse cx="657.79" cy="1587.76" rx="5.25" ry="5.3" fill="#0000ff" stroke="#000" stroke-width="1.5"/>
<ellipse cx="672.19" cy="1579.51" rx="5.25" ry="5.3" fill="#0000ff" stroke="#000" stroke-width="1.5"/>
<ellipse cx="686.58" cy="1573.06" rx="5.25" ry="5.3" fill="#0000ff" stroke="#000" stroke-width="1.5"/>
<ellipse cx="700.98" cy="1567.86" rx="5.25" ry="5.3" fill="#0000ff" stroke="#000" stroke-width="1.5"/>
<ellipse cx="715.38" cy="1564.99" rx="5.25" ry="5.3" fill="#0000ff" stroke="#000" stroke-width="1.5"/>
<ellipse cx="729.77" cy="1563.38" rx="5.25" ry="5.3" fill="#0000ff" stroke="#000" stroke-width="1.5"/>
<ellipse cx="744.16" cy="1562.48" rx="5.25" ry="5.3" fill="#0000ff" stroke="#000" stroke-width="1.5"/>
<ellipse cx="758.56" cy="1562.84" rx="5.25" ry="5.3" fill="#0000ff" stroke="#000" stroke-width="1.5"/>
<ellipse cx="772.95" cy="1564.09" rx="5.25" ry="5.3" fill="#0000ff" stroke="#000" stroke-width="1.5"/>
<ellipse cx="787.35" cy="1565.71" rx="5.25" ry="5.3" fill="#0000ff" stroke="#000" stroke-width="1.5"/>
<ellipse cx="801.75" cy="1568.58" rx="5.25" ry="5.3" fill="#0000ff" stroke="#000" stroke-width="1.5"/>
<ellipse cx="816.14" cy="1572.7" rx="5.25" ry="5.3" fill="#0000ff" stroke="#000" stroke-width="1.5"/>
<ellipse cx="830.53" cy="1576.82" rx="5.25" ry="5.3" fill="#0000ff" stroke="#000" stroke-width="1.5"/>
<ellipse cx="844.93" cy="1584.0" rx="5.25" ry="5.3" fill="#0000ff" stroke="#000" stroke-width="1.5"/>
<ellipse cx="859.32" cy="1591.35" rx="5.25" ry="5.3" fill="#0000ff" stroke="#000" stroke-width="1.5"/>
<ellipse cx="873.72" cy="1599.77" rx="5.25" ry="5.3" fill="#0000ff" stroke="#000" stroke-width="1.5"/>
<ellipse cx="888.12" cy="1608.02" rx="5.25" ry="5.3" fill="#0000ff" stroke="#000" stroke-width="1.5"/>
<ellipse cx="902.51" cy="1609.28" rx="5.25" ry="5.3" fill="#0000ff" stroke="#000" stroke-width="1.5"/>
<ellipse cx="916.9" cy="1596.19" rx="5.25" ry="5.3" fill="#0000ff" stroke="#000" stroke-width="1.5"/>
<ellipse cx="931.3" cy="1573.42" rx="5.25" ry="5.3" fill="#0000ff" stroke="#000" stroke-width="1.5"/>
<polyline points="327.4,2122.9 341.8,2075.8 356.2,2064.4 370.6,2031.0 385.0,2012.6 399.4,1989.8 413.8,1972.2 428.2,1972.2 442.6,1972.2 457.0,1969.1 471.4,1965.7 485.8,1993.9 500.2,1989.8 514.5,2007.6 528.9,2024.9 543.3,2031.0 557.7,2064.4 572.1,2089.1 586.5,2104.2 600.9,2122.9 615.3,2072.7 629.7,2031.0 644.1,2031.7 658.5,2027.6 672.9,1959.8 687.3,1966.4 701.7,1958.1 716.1,1947.3 730.5,1927.7 744.9,1888.4 759.3,1854.6 773.7,1813.9 788.1,1779.4 802.4,1746.8 816.8,1720.1 831.2,1697.7 845.6,1675.1 860.0,1659.3 874.4,1646.8 888.8,1636.5 903.2,1628.1 917.6,1623.4 932.0,1620.4" fill="none" stroke="#00ff00" stroke-width="4.8" stroke-linejoin="round" stroke-linecap="round"/>
<rect x="322.21" y="2117.55" width="10.4" height="10.7" fill="#00ff00" stroke="#000" stroke-width="1.5"/>
<rect x="336.61" y="2070.42" width="10.4" height="10.7" fill="#00ff00" stroke="#000" stroke-width="1.5"/>
<rect x="351.0" y="2059.09" width="10.4" height="10.7" fill="#00ff00" stroke="#000" stroke-width="1.5"/>
<rect x="365.4" y="2025.64" width="10.4" height="10.7" fill="#00ff00" stroke="#000" stroke-width="1.5"/>
<rect x="379.79" y="2007.29" width="10.4" height="10.7" fill="#00ff00" stroke="#000" stroke-width="1.5"/>
<rect x="394.19" y="1984.45" width="10.4" height="10.7" fill="#00ff00" stroke="#000" stroke-width="1.5"/>
<rect x="408.58" y="1966.82" width="10.4" height="10.7" fill="#00ff00" stroke="#000" stroke-width="1.5"/>
<rect x="422.98" y="1966.82" width="10.4" height="10.7" fill="#00ff00" stroke="#000" stroke-width="1.5"/>
<rect x="437.37" y="1966.82" width="10.4" height="10.7" fill="#00ff00" stroke="#000" stroke-width="1.5"/>
<rect x="451.77" y="1963.76" width="10.4" height="10.7" fill="#00ff00" stroke="#000" stroke-width="1.5"/>
<rect x="466.16" y="1960.34" width="10.4" height="10.7" fill="#00ff00" stroke="#000" stroke-width="1.5"/>
<rect x="480.56" y="1988.58" width="10.4" height="10.7" fill="#00ff00" stroke="#000" stroke-width="1.5"/>
<rect x="494.95" y="1984.45" width="10.4" height="10.7" fill="#00ff00" stroke="#000" stroke-width="1.5"/>
<rect x="509.35" y="2002.25" width="10.4" height="10.7" fill="#00ff00" stroke="#000" stroke-width="1.5"/>
<rect x="523.74" y="2019.52" width="10.4" height="10.7" fill="#00ff00" stroke="#000" stroke-width="1.5"/>
<rect x="538.14" y="2025.64" width="10.4" height="10.7" fill="#00ff00" stroke="#000" stroke-width="1.5"/>
<rect x="552.53" y="2059.09" width="10.4" height="10.7" fill="#00ff00" stroke="#000" stroke-width="1.5"/>
<rect x="566.92" y="2083.73" width="10.4" height="10.7" fill="#00ff00" stroke="#000" stroke-width="1.5"/>
<rect x="581.32" y="2098.84" width="10.4" height="10.7" fill="#00ff00" stroke="#000" stroke-width="1.5"/>
<rect x="595.71" y="2117.55" width="10.4" height="10.7" fill="#00ff00" stroke="#000" stroke-width="1.5"/>
<rect x="610.11" y="2067.37" width="10.4" height="10.7" fill="#00ff00" stroke="#000" stroke-width="1.5"/>
<rect x="624.51" y="2025.64" width="10.4" height="10.7" fill="#00ff00" stroke="#000" stroke-width="1.5"/>
<rect x="638.9" y="2026.36" width="10.4" height="10.7" fill="#00ff00" stroke="#000" stroke-width="1.5"/>
<rect x="653.3" y="2022.22" width="10.4" height="10.7" fill="#00ff00" stroke="#000" stroke-width="1.5"/>
<rect x="667.69" y="1954.41" width="10.4" height="10.7" fill="#00ff00" stroke="#000" stroke-width="1.5"/>
<rect x="682.08" y="1961.06" width="10.4" height="10.7" fill="#00ff00" stroke="#000" stroke-width="1.5"/>
<rect x="696.48" y="1952.79" width="10.4" height="10.7" fill="#00ff00" stroke="#000" stroke-width="1.5"/>
<rect x="710.88" y="1942.0" width="10.4" height="10.7" fill="#00ff00" stroke="#000" stroke-width="1.5"/>
<rect x="725.27" y="1922.39" width="10.4" height="10.7" fill="#00ff00" stroke="#000" stroke-width="1.5"/>
<rect x="739.67" y="1883.1" width="10.4" height="10.7" fill="#00ff00" stroke="#000" stroke-width="1.5"/>
<rect x="754.06" y="1849.21" width="10.4" height="10.7" fill="#00ff00" stroke="#000" stroke-width="1.5"/>
<rect x="768.45" y="1808.51" width="10.4" height="10.7" fill="#00ff00" stroke="#000" stroke-width="1.5"/>
<rect x="782.85" y="1774.08" width="10.4" height="10.7" fill="#00ff00" stroke="#000" stroke-width="1.5"/>
<rect x="797.25" y="1741.45" width="10.4" height="10.7" fill="#00ff00" stroke="#000" stroke-width="1.5"/>
<rect x="811.64" y="1714.74" width="10.4" height="10.7" fill="#00ff00" stroke="#000" stroke-width="1.5"/>
<rect x="826.04" y="1692.32" width="10.4" height="10.7" fill="#00ff00" stroke="#000" stroke-width="1.5"/>
<rect x="840.43" y="1669.73" width="10.4" height="10.7" fill="#00ff00" stroke="#000" stroke-width="1.5"/>
<rect x="854.82" y="1653.95" width="10.4" height="10.7" fill="#00ff00" stroke="#000" stroke-width="1.5"/>
<rect x="869.22" y="1641.4" width="10.4" height="10.7" fill="#00ff00" stroke="#000" stroke-width="1.5"/>
<rect x="883.62" y="1631.18" width="10.4" height="10.7" fill="#00ff00" stroke="#000" stroke-width="1.5"/>
<rect x="898.01" y="1622.75" width="10.4" height="10.7" fill="#00ff00" stroke="#000" stroke-width="1.5"/>
<rect x="912.41" y="1618.09" width="10.4" height="10.7" fill="#00ff00" stroke="#000" stroke-width="1.5"/>
<rect x="926.8" y="1615.04" width="10.4" height="10.7" fill="#00ff00" stroke="#000" stroke-width="1.5"/>
<polyline points="413.8,2122.9 428.2,2112.1 442.6,2097.2 457.0,2088.7 471.4,2076.1 485.8,2034.8 500.2,2028.6 514.5,2015.0 528.9,2007.8 543.3,2005.3 557.7,1996.3 572.1,1994.1 586.5,1994.1 600.9,1994.1 615.3,2003.8 629.7,2015.9 644.1,2028.6 658.5,2038.7 672.9,2042.7 687.3,2047.0 701.7,2051.0 716.1,2051.0 730.5,2059.8 744.9,2076.5 759.3,2104.9 773.7,2114.6 788.1,2122.9 802.4,2105.8 816.8,2058.3 831.2,2009.6 845.6,1970.4 860.0,1916.8 874.4,1864.2 888.8,1828.9 903.2,1798.4 917.6,1765.8 932.0,1743.0" fill="none" stroke="#ff00ff" stroke-width="4.6" stroke-linejoin="round" stroke-linecap="round"/>
<use href="#fem" x="413.78" y="2122.9"/>
<use href="#fem" x="428.18" y="2112.11"/>
<use href="#fem" x="442.57" y="2097.18"/>
<use href="#fem" x="456.97" y="2088.72"/>
<use href="#fem" x="471.36" y="2076.13"/>
<use href="#fem" x="485.76" y="2034.76"/>
<use href="#fem" x="500.15" y="2028.65"/>
<use href="#fem" x="514.55" y="2014.98"/>
<use href="#fem" x="528.94" y="2007.78"/>
<use href="#fem" x="543.34" y="2005.27"/>
<use href="#fem" x="557.73" y="1996.27"/>
<use href="#fem" x="572.12" y="1994.11"/>
<use href="#fem" x="586.52" y="1994.11"/>
<use href="#fem" x="600.91" y="1994.11"/>
<use href="#fem" x="615.31" y="2003.83"/>
<use href="#fem" x="629.71" y="2015.88"/>
<use href="#fem" x="644.1" y="2028.65"/>
<use href="#fem" x="658.5" y="2038.72"/>
<use href="#fem" x="672.89" y="2042.68"/>
<use href="#fem" x="687.28" y="2046.99"/>
<use href="#fem" x="701.68" y="2050.95"/>
<use href="#fem" x="716.08" y="2050.95"/>
<use href="#fem" x="730.47" y="2059.77"/>
<use href="#fem" x="744.87" y="2076.49"/>
<use href="#fem" x="759.26" y="2104.91"/>
<use href="#fem" x="773.65" y="2114.63"/>
<use href="#fem" x="788.05" y="2122.9"/>
<use href="#fem" x="802.45" y="2105.81"/>
<use href="#fem" x="816.84" y="2058.33"/>
<use href="#fem" x="831.24" y="2009.58"/>
<use href="#fem" x="845.63" y="1970.37"/>
<use href="#fem" x="860.02" y="1916.77"/>
<use href="#fem" x="874.42" y="1864.24"/>
<use href="#fem" x="888.82" y="1828.92"/>
<use href="#fem" x="903.21" y="1798.44"/>
<use href="#fem" x="917.61" y="1765.81"/>
<use href="#fem" x="932.0" y="1743.04"/>
<polyline points="413.8,2122.9 428.2,2113.9 442.6,2096.8 457.0,2089.4 471.4,2075.4 485.8,2034.2 500.2,2027.6 514.5,2015.2 528.9,2008.1 543.3,2007.6 557.7,1999.0 572.1,1998.4 586.5,1996.8 600.9,1999.9 615.3,1999.9 629.7,2005.3 644.1,2013.2 658.5,2019.3 672.9,2031.0 687.3,2050.4 701.7,2075.4 716.1,2082.1 730.5,2096.1 744.9,2113.5 759.3,2122.9 773.7,2122.9 788.1,2122.9 802.4,2107.8 816.8,2060.3 831.2,2011.6 845.6,1972.3 860.0,1918.7 874.4,1866.2 888.8,1830.9 903.2,1800.4 917.6,1767.8 932.0,1745.0" fill="none" stroke="#ffff00" stroke-width="4.2" stroke-linejoin="round" stroke-linecap="round"/>
<use href="#mal" x="413.78" y="2122.9"/>
<use href="#mal" x="428.18" y="2113.91"/>
<use href="#mal" x="442.57" y="2096.82"/>
<use href="#mal" x="456.97" y="2089.44"/>
<use href="#mal" x="471.36" y="2075.41"/>
<use href="#mal" x="485.76" y="2034.22"/>
<use href="#mal" x="500.15" y="2027.57"/>
<use href="#mal" x="514.55" y="2015.16"/>
<use href="#mal" x="528.94" y="2008.14"/>
<use href="#mal" x="543.34" y="2007.6"/>
<use href="#mal" x="557.73" y="1998.97"/>
<use href="#mal" x="572.12" y="1998.43"/>
<use href="#mal" x="586.52" y="1996.81"/>
<use href="#mal" x="600.91" y="1999.87"/>
<use href="#mal" x="615.31" y="1999.87"/>
<use href="#mal" x="629.71" y="2005.27"/>
<use href="#mal" x="644.1" y="2013.18"/>
<use href="#mal" x="658.5" y="2019.29"/>
<use href="#mal" x="672.89" y="2030.99"/>
<use href="#mal" x="687.28" y="2050.41"/>
<use href="#mal" x="701.68" y="2075.41"/>
<use href="#mal" x="716.08" y="2082.07"/>
<use href="#mal" x="730.47" y="2096.1"/>
<use href="#mal" x="744.87" y="2113.55"/>
<use href="#mal" x="759.26" y="2122.9"/>
<use href="#mal" x="773.65" y="2122.9"/>
<use href="#mal" x="788.05" y="2122.9"/>
<use href="#mal" x="802.45" y="2107.79"/>
<use href="#mal" x="816.84" y="2060.31"/>
<use href="#mal" x="831.24" y="2011.56"/>
<use href="#mal" x="845.63" y="1972.35"/>
<use href="#mal" x="860.02" y="1918.75"/>
<use href="#mal" x="874.42" y="1866.22"/>
<use href="#mal" x="888.82" y="1830.9"/>
<use href="#mal" x="903.21" y="1800.42"/>
<use href="#mal" x="917.61" y="1767.79"/>
<use href="#mal" x="932.0" y="1745.01"/>
</g>
<rect x="103.1" y="1570.6" width="168.0" height="177.0" fill="#fff" stroke="#000" stroke-width="1.7"/>
<path d="M117.6 1598.0H169.3" stroke="#ff0000" stroke-width="4.8" stroke-linecap="round"/>
<ellipse cx="142.75" cy="1598.0" rx="5.25" ry="5.3" fill="#ff0000" stroke="#000" stroke-width="1.5"/>
<text transform="translate(182.47 1606.5) scale(1 1.096)" font-family="Liberation Serif, Times New Roman, serif" font-size="21.6" textLength="35.35" lengthAdjust="spacingAndGlyphs" fill="#000" xml:space="preserve">Egg</text>
<path d="M117.6 1628.45H169.3" stroke="#0000ff" stroke-width="4.8" stroke-linecap="round"/>
<ellipse cx="142.75" cy="1628.45" rx="5.25" ry="5.3" fill="#0000ff" stroke="#000" stroke-width="1.5"/>
<text transform="translate(182.46 1636.95) scale(1 1.096)" font-family="Liberation Serif, Times New Roman, serif" font-size="21.6" textLength="51.64" lengthAdjust="spacingAndGlyphs" fill="#000" xml:space="preserve">Larva</text>
<path d="M117.6 1658.9H169.3" stroke="#00ff00" stroke-width="4.8" stroke-linecap="round"/>
<rect x="138.25" y="1653.55" width="10.4" height="10.7" fill="#00ff00" stroke="#000" stroke-width="1.5"/>
<text transform="translate(182.45 1667.4) scale(1 1.096)" font-family="Liberation Serif, Times New Roman, serif" font-size="21.6" textLength="45.36" lengthAdjust="spacingAndGlyphs" fill="#000" xml:space="preserve">Pupa</text>
<path d="M117.6 1689.35H169.3" stroke="#ff00ff" stroke-width="4.5" stroke-linecap="round"/>
<use href="#fem" x="143.45" y="1689.35"/>
<text transform="translate(182.47 1697.85) scale(1 1.096)" font-family="Liberation Serif, Times New Roman, serif" font-size="21.6" textLength="64.18" lengthAdjust="spacingAndGlyphs" fill="#000" xml:space="preserve">Female</text>
<path d="M117.6 1719.8H169.3" stroke="#ffff00" stroke-width="4.1" stroke-linecap="round"/>
<use href="#mal" x="143.45" y="1719.8"/>
<text transform="translate(182.46 1728.3) scale(1 1.096)" font-family="Liberation Serif, Times New Roman, serif" font-size="21.6" textLength="45.4" lengthAdjust="spacingAndGlyphs" fill="#000" xml:space="preserve">Male</text>
<text transform="translate(121.73 1543.7) scale(1 1.01)" font-family="Liberation Serif, Times New Roman, serif" font-size="27.67" font-weight="bold" textLength="72.19" lengthAdjust="spacingAndGlyphs" fill="#000" xml:space="preserve">Maize</text>
<text transform="translate(440.07 2193.2) scale(1 1.029)" font-family="Liberation Serif, Times New Roman, serif" font-size="22.7" font-weight="bold" textLength="47.39" lengthAdjust="spacingAndGlyphs" fill="#000" xml:space="preserve">Time</text>
<text transform="translate(494.14 2193.2) scale(1 1.029)" font-family="Liberation Serif, Times New Roman, serif" font-size="22.7" font-weight="bold" textLength="66.92" lengthAdjust="spacingAndGlyphs" fill="#000" xml:space="preserve">(Days)</text>
<text transform="translate(18.3 1937.58) rotate(-90) scale(1 1.109)" font-family="Liberation Serif, Times New Roman, serif" font-size="22.45" font-weight="bold" textLength="251.67" lengthAdjust="spacingAndGlyphs" fill="#000" xml:space="preserve">Population size (log (n+1))</text>
</svg>
</body></html>
